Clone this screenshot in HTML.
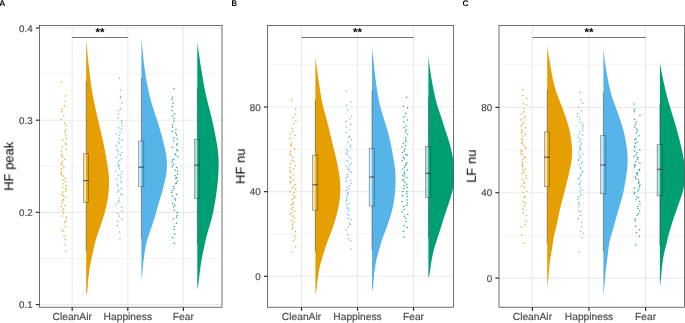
<!DOCTYPE html>
<html><head><meta charset="utf-8"><style>
html,body{margin:0;padding:0;background:#fff;width:685px;height:323px;overflow:hidden}
svg{display:block;font-family:"Liberation Sans",sans-serif;-webkit-font-smoothing:antialiased}
text{will-change:transform;text-rendering:geometricPrecision}
</style></head><body>
<svg width="685" height="323" viewBox="0 0 685 323">
<rect width="685" height="323" fill="#fff"/>
<clipPath id="clipA"><rect x="39.5" y="25.4" width="182.50" height="281.80"/></clipPath>
<g clip-path="url(#clipA)">
<line x1="39.5" x2="222.0" y1="258.5" y2="258.5" stroke="#EBEBEB" stroke-width="0.6"/>
<line x1="39.5" x2="222.0" y1="166.3" y2="166.3" stroke="#EBEBEB" stroke-width="0.6"/>
<line x1="39.5" x2="222.0" y1="74.1" y2="74.1" stroke="#EBEBEB" stroke-width="0.6"/>
<line x1="39.5" x2="222.0" y1="304.6" y2="304.6" stroke="#EBEBEB" stroke-width="1.1"/>
<line x1="39.5" x2="222.0" y1="212.4" y2="212.4" stroke="#EBEBEB" stroke-width="1.1"/>
<line x1="39.5" x2="222.0" y1="120.2" y2="120.2" stroke="#EBEBEB" stroke-width="1.1"/>
<line x1="39.5" x2="222.0" y1="28.0" y2="28.0" stroke="#EBEBEB" stroke-width="1.1"/>
<line x1="72.2" x2="72.2" y1="25.4" y2="307.2" stroke="#EBEBEB" stroke-width="1.1"/>
<line x1="127.8" x2="127.8" y1="25.4" y2="307.2" stroke="#EBEBEB" stroke-width="1.1"/>
<line x1="183.4" x2="183.4" y1="25.4" y2="307.2" stroke="#EBEBEB" stroke-width="1.1"/>
<path d="M86.20,39.60 L87.10,39.60 L86.24,40.10 L86.29,40.60 L86.33,41.10 L86.37,41.60 L86.42,42.10 L86.46,42.60 L86.51,43.10 L86.55,43.60 L86.60,44.10 L86.64,44.60 L86.69,45.10 L86.74,45.60 L86.78,46.10 L86.83,46.60 L86.87,47.10 L86.92,47.60 L86.97,48.10 L87.02,48.60 L87.06,49.10 L87.11,49.60 L87.16,50.10 L87.21,50.60 L87.26,51.10 L87.31,51.60 L87.36,52.10 L87.41,52.60 L87.45,53.10 L87.50,53.60 L87.55,54.10 L87.60,54.60 L87.66,55.10 L87.71,55.60 L87.76,56.10 L87.81,56.60 L87.86,57.10 L87.91,57.60 L87.96,58.10 L88.01,58.60 L88.07,59.10 L88.12,59.60 L88.17,60.10 L88.22,60.60 L88.28,61.10 L88.33,61.60 L88.38,62.10 L88.44,62.60 L88.49,63.10 L88.55,63.60 L88.60,64.10 L88.65,64.60 L88.71,65.10 L88.76,65.60 L88.82,66.10 L88.87,66.60 L88.93,67.10 L88.99,67.60 L89.04,68.10 L89.10,68.60 L89.15,69.10 L89.21,69.60 L89.27,70.10 L89.32,70.60 L89.38,71.10 L89.44,71.60 L89.50,72.10 L89.55,72.60 L89.61,73.10 L89.67,73.60 L89.73,74.10 L89.79,74.60 L89.85,75.10 L89.91,75.60 L89.97,76.10 L90.03,76.60 L90.09,77.10 L90.15,77.60 L90.21,78.10 L90.27,78.60 L90.33,79.10 L90.39,79.60 L90.46,80.10 L90.52,80.60 L90.58,81.10 L90.65,81.60 L90.71,82.10 L90.78,82.60 L90.84,83.10 L90.91,83.60 L90.98,84.10 L91.04,84.60 L91.11,85.10 L91.18,85.60 L91.25,86.10 L91.32,86.60 L91.40,87.10 L91.47,87.60 L91.54,88.10 L91.62,88.60 L91.70,89.10 L91.77,89.60 L91.85,90.10 L91.93,90.60 L92.01,91.10 L92.10,91.60 L92.18,92.10 L92.26,92.60 L92.35,93.10 L92.44,93.60 L92.53,94.10 L92.62,94.60 L92.71,95.10 L92.80,95.60 L92.89,96.10 L92.99,96.60 L93.08,97.10 L93.18,97.60 L93.27,98.10 L93.37,98.60 L93.47,99.10 L93.57,99.60 L93.68,100.10 L93.78,100.60 L93.88,101.10 L93.98,101.60 L94.09,102.10 L94.19,102.60 L94.30,103.10 L94.41,103.60 L94.51,104.10 L94.62,104.60 L94.73,105.10 L94.84,105.60 L94.95,106.10 L95.06,106.60 L95.17,107.10 L95.28,107.60 L95.39,108.10 L95.50,108.60 L95.61,109.10 L95.72,109.60 L95.83,110.10 L95.94,110.60 L96.05,111.10 L96.16,111.60 L96.27,112.10 L96.39,112.60 L96.50,113.10 L96.61,113.60 L96.72,114.10 L96.83,114.60 L96.95,115.10 L97.06,115.60 L97.17,116.10 L97.29,116.60 L97.40,117.10 L97.52,117.60 L97.63,118.10 L97.74,118.60 L97.86,119.10 L97.97,119.60 L98.09,120.10 L98.20,120.60 L98.32,121.10 L98.44,121.60 L98.55,122.10 L98.67,122.60 L98.78,123.10 L98.90,123.60 L99.02,124.10 L99.13,124.60 L99.25,125.10 L99.37,125.60 L99.48,126.10 L99.60,126.60 L99.72,127.10 L99.83,127.60 L99.95,128.10 L100.06,128.60 L100.18,129.10 L100.30,129.60 L100.41,130.10 L100.53,130.60 L100.64,131.10 L100.76,131.60 L100.87,132.10 L100.99,132.60 L101.10,133.10 L101.22,133.60 L101.33,134.10 L101.45,134.60 L101.56,135.10 L101.68,135.60 L101.79,136.10 L101.91,136.60 L102.02,137.10 L102.14,137.60 L102.25,138.10 L102.36,138.60 L102.48,139.10 L102.59,139.60 L102.70,140.10 L102.81,140.60 L102.93,141.10 L103.04,141.60 L103.15,142.10 L103.26,142.60 L103.37,143.10 L103.48,143.60 L103.58,144.10 L103.69,144.60 L103.80,145.10 L103.90,145.60 L104.01,146.10 L104.11,146.60 L104.21,147.10 L104.31,147.60 L104.41,148.10 L104.51,148.60 L104.61,149.10 L104.71,149.60 L104.80,150.10 L104.90,150.60 L104.99,151.10 L105.08,151.60 L105.18,152.10 L105.27,152.60 L105.36,153.10 L105.45,153.60 L105.53,154.10 L105.62,154.60 L105.71,155.10 L105.79,155.60 L105.88,156.10 L105.96,156.60 L106.05,157.10 L106.13,157.60 L106.21,158.10 L106.29,158.60 L106.38,159.10 L106.46,159.60 L106.54,160.10 L106.62,160.60 L106.70,161.10 L106.79,161.60 L106.87,162.10 L106.95,162.60 L107.03,163.10 L107.11,163.60 L107.19,164.10 L107.27,164.60 L107.36,165.10 L107.44,165.60 L107.52,166.10 L107.59,166.60 L107.67,167.10 L107.75,167.60 L107.83,168.10 L107.90,168.60 L107.97,169.10 L108.05,169.60 L108.12,170.10 L108.18,170.60 L108.25,171.10 L108.31,171.60 L108.37,172.10 L108.43,172.60 L108.49,173.10 L108.54,173.60 L108.59,174.10 L108.64,174.60 L108.69,175.10 L108.73,175.60 L108.77,176.10 L108.81,176.60 L108.84,177.10 L108.88,177.60 L108.91,178.10 L108.93,178.60 L108.96,179.10 L108.98,179.60 L108.99,180.10 L109.01,180.60 L109.02,181.10 L109.03,181.60 L109.04,182.10 L109.04,182.60 L109.04,183.10 L109.04,183.60 L109.03,184.10 L109.02,184.60 L109.01,185.10 L109.00,185.60 L108.98,186.10 L108.97,186.60 L108.94,187.10 L108.92,187.60 L108.89,188.10 L108.86,188.60 L108.83,189.10 L108.80,189.60 L108.76,190.10 L108.72,190.60 L108.68,191.10 L108.64,191.60 L108.59,192.10 L108.54,192.60 L108.49,193.10 L108.44,193.60 L108.39,194.10 L108.33,194.60 L108.27,195.10 L108.20,195.60 L108.14,196.10 L108.07,196.60 L108.00,197.10 L107.93,197.60 L107.86,198.10 L107.78,198.60 L107.70,199.10 L107.62,199.60 L107.53,200.10 L107.45,200.60 L107.36,201.10 L107.27,201.60 L107.17,202.10 L107.08,202.60 L106.98,203.10 L106.88,203.60 L106.78,204.10 L106.67,204.60 L106.57,205.10 L106.46,205.60 L106.35,206.10 L106.23,206.60 L106.12,207.10 L106.00,207.60 L105.88,208.10 L105.76,208.60 L105.63,209.10 L105.51,209.60 L105.38,210.10 L105.25,210.60 L105.12,211.10 L104.98,211.60 L104.85,212.10 L104.71,212.60 L104.57,213.10 L104.43,213.60 L104.28,214.10 L104.14,214.60 L103.99,215.10 L103.84,215.60 L103.69,216.10 L103.54,216.60 L103.39,217.10 L103.23,217.60 L103.08,218.10 L102.92,218.60 L102.76,219.10 L102.60,219.60 L102.44,220.10 L102.28,220.60 L102.12,221.10 L101.95,221.60 L101.79,222.10 L101.62,222.60 L101.45,223.10 L101.29,223.60 L101.12,224.10 L100.95,224.60 L100.78,225.10 L100.60,225.60 L100.43,226.10 L100.26,226.60 L100.09,227.10 L99.92,227.60 L99.74,228.10 L99.57,228.60 L99.40,229.10 L99.22,229.60 L99.05,230.10 L98.88,230.60 L98.71,231.10 L98.53,231.60 L98.36,232.10 L98.19,232.60 L98.03,233.10 L97.86,233.60 L97.69,234.10 L97.53,234.60 L97.36,235.10 L97.20,235.60 L97.04,236.10 L96.88,236.60 L96.72,237.10 L96.57,237.60 L96.41,238.10 L96.26,238.60 L96.11,239.10 L95.97,239.60 L95.82,240.10 L95.68,240.60 L95.54,241.10 L95.41,241.60 L95.27,242.10 L95.14,242.60 L95.01,243.10 L94.88,243.60 L94.76,244.10 L94.63,244.60 L94.51,245.10 L94.39,245.60 L94.27,246.10 L94.16,246.60 L94.04,247.10 L93.93,247.60 L93.81,248.10 L93.70,248.60 L93.59,249.10 L93.47,249.60 L93.36,250.10 L93.25,250.60 L93.14,251.10 L93.03,251.60 L92.91,252.10 L92.80,252.60 L92.69,253.10 L92.58,253.60 L92.47,254.10 L92.35,254.60 L92.24,255.10 L92.13,255.60 L92.02,256.10 L91.91,256.60 L91.80,257.10 L91.69,257.60 L91.58,258.10 L91.48,258.60 L91.37,259.10 L91.27,259.60 L91.17,260.10 L91.07,260.60 L90.97,261.10 L90.87,261.60 L90.77,262.10 L90.68,262.60 L90.59,263.10 L90.50,263.60 L90.41,264.10 L90.32,264.60 L90.24,265.10 L90.16,265.60 L90.07,266.10 L89.99,266.60 L89.92,267.10 L89.84,267.60 L89.77,268.10 L89.69,268.60 L89.62,269.10 L89.55,269.60 L89.48,270.10 L89.41,270.60 L89.34,271.10 L89.27,271.60 L89.21,272.10 L89.14,272.60 L89.08,273.10 L89.01,273.60 L88.95,274.10 L88.89,274.60 L88.82,275.10 L88.76,275.60 L88.70,276.10 L88.63,276.60 L88.57,277.10 L88.51,277.60 L88.45,278.10 L88.39,278.60 L88.33,279.10 L88.28,279.60 L88.22,280.10 L88.18,280.60 L88.13,281.10 L88.08,281.60 L88.04,282.10 L88.00,282.60 L87.97,283.10 L87.93,283.60 L87.89,284.10 L87.86,284.60 L87.82,285.10 L87.79,285.60 L87.75,286.10 L87.71,286.60 L87.67,287.10 L87.63,287.60 L87.59,288.10 L87.55,288.60 L87.51,289.10 L87.47,289.60 L87.42,290.10 L87.37,290.60 L87.30,291.10 L87.23,291.60 L87.15,292.10 L87.06,292.60 L86.90,293.10 L86.69,293.60 L86.45,294.10 L86.20,294.60 L86.90,294.60 L86.20,294.60 Z" fill="#E69F00"/>
<path d="M141.40,38.80 L142.30,38.80 L141.45,39.30 L141.50,39.80 L141.55,40.30 L141.59,40.80 L141.64,41.30 L141.69,41.80 L141.74,42.30 L141.79,42.80 L141.84,43.30 L141.89,43.80 L141.94,44.30 L141.99,44.80 L142.04,45.30 L142.09,45.80 L142.14,46.30 L142.19,46.80 L142.24,47.30 L142.29,47.80 L142.35,48.30 L142.40,48.80 L142.45,49.30 L142.50,49.80 L142.55,50.30 L142.61,50.80 L142.66,51.30 L142.71,51.80 L142.76,52.30 L142.82,52.80 L142.87,53.30 L142.92,53.80 L142.97,54.30 L143.03,54.80 L143.08,55.30 L143.13,55.80 L143.18,56.30 L143.24,56.80 L143.29,57.30 L143.34,57.80 L143.39,58.30 L143.45,58.80 L143.50,59.30 L143.55,59.80 L143.61,60.30 L143.66,60.80 L143.72,61.30 L143.77,61.80 L143.83,62.30 L143.88,62.80 L143.94,63.30 L144.00,63.80 L144.05,64.30 L144.11,64.80 L144.17,65.30 L144.23,65.80 L144.29,66.30 L144.35,66.80 L144.41,67.30 L144.47,67.80 L144.54,68.30 L144.60,68.80 L144.67,69.30 L144.74,69.80 L144.81,70.30 L144.87,70.80 L144.95,71.30 L145.02,71.80 L145.09,72.30 L145.17,72.80 L145.24,73.30 L145.32,73.80 L145.40,74.30 L145.48,74.80 L145.56,75.30 L145.64,75.80 L145.73,76.30 L145.81,76.80 L145.90,77.30 L145.99,77.80 L146.08,78.30 L146.17,78.80 L146.26,79.30 L146.35,79.80 L146.44,80.30 L146.54,80.80 L146.63,81.30 L146.73,81.80 L146.82,82.30 L146.92,82.80 L147.02,83.30 L147.11,83.80 L147.21,84.30 L147.31,84.80 L147.41,85.30 L147.51,85.80 L147.61,86.30 L147.71,86.80 L147.81,87.30 L147.91,87.80 L148.01,88.30 L148.11,88.80 L148.21,89.30 L148.31,89.80 L148.42,90.30 L148.52,90.80 L148.62,91.30 L148.73,91.80 L148.84,92.30 L148.95,92.80 L149.06,93.30 L149.17,93.80 L149.28,94.30 L149.40,94.80 L149.51,95.30 L149.63,95.80 L149.75,96.30 L149.87,96.80 L150.00,97.30 L150.13,97.80 L150.26,98.30 L150.39,98.80 L150.52,99.30 L150.66,99.80 L150.79,100.30 L150.93,100.80 L151.07,101.30 L151.22,101.80 L151.36,102.30 L151.51,102.80 L151.65,103.30 L151.80,103.80 L151.95,104.30 L152.11,104.80 L152.26,105.30 L152.41,105.80 L152.57,106.30 L152.72,106.80 L152.88,107.30 L153.04,107.80 L153.20,108.30 L153.36,108.80 L153.52,109.30 L153.68,109.80 L153.84,110.30 L154.00,110.80 L154.16,111.30 L154.33,111.80 L154.49,112.30 L154.65,112.80 L154.82,113.30 L154.98,113.80 L155.15,114.30 L155.31,114.80 L155.48,115.30 L155.64,115.80 L155.81,116.30 L155.97,116.80 L156.13,117.30 L156.30,117.80 L156.46,118.30 L156.63,118.80 L156.79,119.30 L156.95,119.80 L157.12,120.30 L157.28,120.80 L157.44,121.30 L157.60,121.80 L157.76,122.30 L157.92,122.80 L158.08,123.30 L158.24,123.80 L158.39,124.30 L158.55,124.80 L158.71,125.30 L158.86,125.80 L159.01,126.30 L159.16,126.80 L159.32,127.30 L159.47,127.80 L159.61,128.30 L159.76,128.80 L159.91,129.30 L160.05,129.80 L160.20,130.30 L160.34,130.80 L160.48,131.30 L160.62,131.80 L160.77,132.30 L160.90,132.80 L161.04,133.30 L161.18,133.80 L161.31,134.30 L161.45,134.80 L161.58,135.30 L161.72,135.80 L161.85,136.30 L161.98,136.80 L162.11,137.30 L162.24,137.80 L162.37,138.30 L162.50,138.80 L162.63,139.30 L162.76,139.80 L162.89,140.30 L163.01,140.80 L163.14,141.30 L163.27,141.80 L163.39,142.30 L163.52,142.80 L163.64,143.30 L163.77,143.80 L163.89,144.30 L164.01,144.80 L164.14,145.30 L164.26,145.80 L164.38,146.30 L164.50,146.80 L164.62,147.30 L164.73,147.80 L164.85,148.30 L164.96,148.80 L165.07,149.30 L165.18,149.80 L165.29,150.30 L165.40,150.80 L165.50,151.30 L165.60,151.80 L165.70,152.30 L165.80,152.80 L165.89,153.30 L165.98,153.80 L166.06,154.30 L166.15,154.80 L166.22,155.30 L166.30,155.80 L166.37,156.30 L166.44,156.80 L166.50,157.30 L166.56,157.80 L166.62,158.30 L166.67,158.80 L166.72,159.30 L166.76,159.80 L166.80,160.30 L166.83,160.80 L166.86,161.30 L166.88,161.80 L166.91,162.30 L166.92,162.80 L166.93,163.30 L166.94,163.80 L166.94,164.30 L166.94,164.80 L166.93,165.30 L166.92,165.80 L166.91,166.30 L166.89,166.80 L166.87,167.30 L166.84,167.80 L166.81,168.30 L166.77,168.80 L166.73,169.30 L166.69,169.80 L166.64,170.30 L166.59,170.80 L166.53,171.30 L166.48,171.80 L166.41,172.30 L166.35,172.80 L166.28,173.30 L166.21,173.80 L166.14,174.30 L166.06,174.80 L165.98,175.30 L165.89,175.80 L165.81,176.30 L165.72,176.80 L165.63,177.30 L165.53,177.80 L165.43,178.30 L165.33,178.80 L165.23,179.30 L165.13,179.80 L165.02,180.30 L164.91,180.80 L164.80,181.30 L164.69,181.80 L164.58,182.30 L164.46,182.80 L164.35,183.30 L164.23,183.80 L164.11,184.30 L163.99,184.80 L163.86,185.30 L163.74,185.80 L163.61,186.30 L163.49,186.80 L163.36,187.30 L163.23,187.80 L163.10,188.30 L162.97,188.80 L162.83,189.30 L162.70,189.80 L162.56,190.30 L162.43,190.80 L162.29,191.30 L162.15,191.80 L162.01,192.30 L161.87,192.80 L161.73,193.30 L161.59,193.80 L161.44,194.30 L161.30,194.80 L161.15,195.30 L161.00,195.80 L160.86,196.30 L160.71,196.80 L160.56,197.30 L160.41,197.80 L160.26,198.30 L160.11,198.80 L159.96,199.30 L159.81,199.80 L159.66,200.30 L159.50,200.80 L159.35,201.30 L159.20,201.80 L159.05,202.30 L158.90,202.80 L158.75,203.30 L158.60,203.80 L158.45,204.30 L158.30,204.80 L158.16,205.30 L158.01,205.80 L157.86,206.30 L157.72,206.80 L157.58,207.30 L157.43,207.80 L157.29,208.30 L157.15,208.80 L157.01,209.30 L156.87,209.80 L156.74,210.30 L156.60,210.80 L156.46,211.30 L156.32,211.80 L156.19,212.30 L156.05,212.80 L155.91,213.30 L155.77,213.80 L155.63,214.30 L155.49,214.80 L155.35,215.30 L155.21,215.80 L155.06,216.30 L154.92,216.80 L154.77,217.30 L154.62,217.80 L154.46,218.30 L154.31,218.80 L154.15,219.30 L153.99,219.80 L153.83,220.30 L153.67,220.80 L153.51,221.30 L153.34,221.80 L153.18,222.30 L153.01,222.80 L152.84,223.30 L152.68,223.80 L152.51,224.30 L152.34,224.80 L152.16,225.30 L151.99,225.80 L151.82,226.30 L151.65,226.80 L151.48,227.30 L151.30,227.80 L151.13,228.30 L150.95,228.80 L150.78,229.30 L150.61,229.80 L150.43,230.30 L150.26,230.80 L150.08,231.30 L149.91,231.80 L149.73,232.30 L149.56,232.80 L149.39,233.30 L149.22,233.80 L149.05,234.30 L148.88,234.80 L148.71,235.30 L148.55,235.80 L148.38,236.30 L148.22,236.80 L148.06,237.30 L147.91,237.80 L147.75,238.30 L147.60,238.80 L147.46,239.30 L147.31,239.80 L147.17,240.30 L147.04,240.80 L146.90,241.30 L146.77,241.80 L146.64,242.30 L146.52,242.80 L146.40,243.30 L146.28,243.80 L146.16,244.30 L146.05,244.80 L145.94,245.30 L145.83,245.80 L145.73,246.30 L145.63,246.80 L145.53,247.30 L145.43,247.80 L145.33,248.30 L145.24,248.80 L145.15,249.30 L145.06,249.80 L144.97,250.30 L144.89,250.80 L144.80,251.30 L144.72,251.80 L144.64,252.30 L144.57,252.80 L144.49,253.30 L144.42,253.80 L144.34,254.30 L144.27,254.80 L144.21,255.30 L144.14,255.80 L144.07,256.30 L144.00,256.80 L143.94,257.30 L143.88,257.80 L143.81,258.30 L143.75,258.80 L143.70,259.30 L143.64,259.80 L143.58,260.30 L143.52,260.80 L143.47,261.30 L143.42,261.80 L143.36,262.30 L143.31,262.80 L143.26,263.30 L143.21,263.80 L143.16,264.30 L143.11,264.80 L143.06,265.30 L143.02,265.80 L142.97,266.30 L142.92,266.80 L142.88,267.30 L142.84,267.80 L142.80,268.30 L142.76,268.80 L142.72,269.30 L142.68,269.80 L142.64,270.30 L142.60,270.80 L142.56,271.30 L142.51,271.80 L142.46,272.30 L142.40,272.80 L142.34,273.30 L142.27,273.80 L142.20,274.30 L142.12,274.80 L142.04,275.30 L141.96,275.80 L141.87,276.30 L141.78,276.80 L141.68,277.30 L141.58,277.80 L141.48,278.30 L142.10,278.70 L141.40,278.70 Z" fill="#56B4E9"/>
<path d="M197.30,42.80 L198.20,42.80 L197.37,43.30 L197.45,43.80 L197.52,44.30 L197.59,44.80 L197.67,45.30 L197.74,45.80 L197.82,46.30 L197.89,46.80 L197.96,47.30 L198.04,47.80 L198.11,48.30 L198.19,48.80 L198.26,49.30 L198.33,49.80 L198.41,50.30 L198.48,50.80 L198.56,51.30 L198.63,51.80 L198.71,52.30 L198.78,52.80 L198.86,53.30 L198.93,53.80 L199.00,54.30 L199.08,54.80 L199.15,55.30 L199.23,55.80 L199.30,56.30 L199.37,56.80 L199.45,57.30 L199.52,57.80 L199.59,58.30 L199.67,58.80 L199.74,59.30 L199.81,59.80 L199.89,60.30 L199.96,60.80 L200.04,61.30 L200.11,61.80 L200.19,62.30 L200.26,62.80 L200.34,63.30 L200.41,63.80 L200.49,64.30 L200.56,64.80 L200.64,65.30 L200.72,65.80 L200.79,66.30 L200.87,66.80 L200.95,67.30 L201.02,67.80 L201.10,68.30 L201.18,68.80 L201.26,69.30 L201.34,69.80 L201.42,70.30 L201.50,70.80 L201.58,71.30 L201.66,71.80 L201.74,72.30 L201.82,72.80 L201.91,73.30 L201.99,73.80 L202.07,74.30 L202.15,74.80 L202.24,75.30 L202.32,75.80 L202.41,76.30 L202.49,76.80 L202.58,77.30 L202.66,77.80 L202.75,78.30 L202.84,78.80 L202.93,79.30 L203.01,79.80 L203.10,80.30 L203.19,80.80 L203.28,81.30 L203.37,81.80 L203.46,82.30 L203.55,82.80 L203.64,83.30 L203.73,83.80 L203.82,84.30 L203.91,84.80 L204.00,85.30 L204.09,85.80 L204.18,86.30 L204.28,86.80 L204.37,87.30 L204.46,87.80 L204.56,88.30 L204.65,88.80 L204.75,89.30 L204.84,89.80 L204.94,90.30 L205.04,90.80 L205.14,91.30 L205.24,91.80 L205.34,92.30 L205.45,92.80 L205.55,93.30 L205.66,93.80 L205.76,94.30 L205.87,94.80 L205.98,95.30 L206.10,95.80 L206.21,96.30 L206.32,96.80 L206.44,97.30 L206.56,97.80 L206.68,98.30 L206.80,98.80 L206.92,99.30 L207.05,99.80 L207.17,100.30 L207.30,100.80 L207.42,101.30 L207.55,101.80 L207.68,102.30 L207.81,102.80 L207.93,103.30 L208.06,103.80 L208.19,104.30 L208.32,104.80 L208.45,105.30 L208.58,105.80 L208.71,106.30 L208.84,106.80 L208.97,107.30 L209.10,107.80 L209.23,108.30 L209.36,108.80 L209.49,109.30 L209.61,109.80 L209.74,110.30 L209.87,110.80 L209.99,111.30 L210.12,111.80 L210.25,112.30 L210.37,112.80 L210.50,113.30 L210.62,113.80 L210.74,114.30 L210.87,114.80 L210.99,115.30 L211.11,115.80 L211.23,116.30 L211.35,116.80 L211.47,117.30 L211.59,117.80 L211.71,118.30 L211.82,118.80 L211.94,119.30 L212.05,119.80 L212.17,120.30 L212.28,120.80 L212.40,121.30 L212.51,121.80 L212.62,122.30 L212.73,122.80 L212.84,123.30 L212.95,123.80 L213.06,124.30 L213.17,124.80 L213.27,125.30 L213.38,125.80 L213.48,126.30 L213.59,126.80 L213.69,127.30 L213.80,127.80 L213.90,128.30 L214.00,128.80 L214.11,129.30 L214.21,129.80 L214.31,130.30 L214.41,130.80 L214.51,131.30 L214.61,131.80 L214.71,132.30 L214.81,132.80 L214.91,133.30 L215.01,133.80 L215.11,134.30 L215.20,134.80 L215.30,135.30 L215.40,135.80 L215.50,136.30 L215.59,136.80 L215.69,137.30 L215.78,137.80 L215.88,138.30 L215.97,138.80 L216.07,139.30 L216.16,139.80 L216.25,140.30 L216.34,140.80 L216.43,141.30 L216.52,141.80 L216.61,142.30 L216.70,142.80 L216.78,143.30 L216.87,143.80 L216.95,144.30 L217.03,144.80 L217.11,145.30 L217.19,145.80 L217.27,146.30 L217.35,146.80 L217.42,147.30 L217.49,147.80 L217.56,148.30 L217.63,148.80 L217.69,149.30 L217.75,149.80 L217.81,150.30 L217.87,150.80 L217.93,151.30 L217.98,151.80 L218.04,152.30 L218.09,152.80 L218.13,153.30 L218.18,153.80 L218.22,154.30 L218.27,154.80 L218.31,155.30 L218.34,155.80 L218.38,156.30 L218.41,156.80 L218.44,157.30 L218.47,157.80 L218.50,158.30 L218.53,158.80 L218.55,159.30 L218.57,159.80 L218.59,160.30 L218.61,160.80 L218.63,161.30 L218.64,161.80 L218.65,162.30 L218.66,162.80 L218.66,163.30 L218.67,163.80 L218.67,164.30 L218.67,164.80 L218.67,165.30 L218.66,165.80 L218.65,166.30 L218.65,166.80 L218.63,167.30 L218.62,167.80 L218.61,168.30 L218.59,168.80 L218.57,169.30 L218.55,169.80 L218.53,170.30 L218.51,170.80 L218.49,171.30 L218.46,171.80 L218.44,172.30 L218.41,172.80 L218.38,173.30 L218.35,173.80 L218.32,174.30 L218.29,174.80 L218.26,175.30 L218.22,175.80 L218.19,176.30 L218.15,176.80 L218.11,177.30 L218.08,177.80 L218.04,178.30 L218.00,178.80 L217.96,179.30 L217.91,179.80 L217.87,180.30 L217.82,180.80 L217.78,181.30 L217.73,181.80 L217.68,182.30 L217.63,182.80 L217.58,183.30 L217.53,183.80 L217.47,184.30 L217.42,184.80 L217.36,185.30 L217.31,185.80 L217.25,186.30 L217.19,186.80 L217.13,187.30 L217.07,187.80 L217.00,188.30 L216.94,188.80 L216.88,189.30 L216.81,189.80 L216.75,190.30 L216.68,190.80 L216.62,191.30 L216.55,191.80 L216.48,192.30 L216.41,192.80 L216.35,193.30 L216.28,193.80 L216.21,194.30 L216.14,194.80 L216.07,195.30 L215.99,195.80 L215.92,196.30 L215.85,196.80 L215.77,197.30 L215.70,197.80 L215.62,198.30 L215.55,198.80 L215.47,199.30 L215.39,199.80 L215.31,200.30 L215.23,200.80 L215.14,201.30 L215.06,201.80 L214.97,202.30 L214.89,202.80 L214.80,203.30 L214.72,203.80 L214.63,204.30 L214.54,204.80 L214.45,205.30 L214.36,205.80 L214.27,206.30 L214.18,206.80 L214.08,207.30 L213.99,207.80 L213.90,208.30 L213.81,208.80 L213.71,209.30 L213.62,209.80 L213.52,210.30 L213.43,210.80 L213.33,211.30 L213.23,211.80 L213.13,212.30 L213.03,212.80 L212.93,213.30 L212.82,213.80 L212.72,214.30 L212.61,214.80 L212.49,215.30 L212.38,215.80 L212.26,216.30 L212.14,216.80 L212.01,217.30 L211.88,217.80 L211.75,218.30 L211.62,218.80 L211.48,219.30 L211.35,219.80 L211.21,220.30 L211.06,220.80 L210.92,221.30 L210.77,221.80 L210.62,222.30 L210.47,222.80 L210.32,223.30 L210.17,223.80 L210.02,224.30 L209.87,224.80 L209.71,225.30 L209.56,225.80 L209.41,226.30 L209.26,226.80 L209.11,227.30 L208.96,227.80 L208.81,228.30 L208.66,228.80 L208.51,229.30 L208.36,229.80 L208.22,230.30 L208.07,230.80 L207.93,231.30 L207.79,231.80 L207.65,232.30 L207.51,232.80 L207.38,233.30 L207.24,233.80 L207.11,234.30 L206.98,234.80 L206.85,235.30 L206.72,235.80 L206.59,236.30 L206.47,236.80 L206.34,237.30 L206.22,237.80 L206.10,238.30 L205.99,238.80 L205.87,239.30 L205.76,239.80 L205.64,240.30 L205.53,240.80 L205.42,241.30 L205.31,241.80 L205.20,242.30 L205.10,242.80 L204.99,243.30 L204.88,243.80 L204.78,244.30 L204.67,244.80 L204.57,245.30 L204.46,245.80 L204.36,246.30 L204.25,246.80 L204.15,247.30 L204.04,247.80 L203.93,248.30 L203.83,248.80 L203.72,249.30 L203.61,249.80 L203.50,250.30 L203.39,250.80 L203.29,251.30 L203.18,251.80 L203.07,252.30 L202.96,252.80 L202.85,253.30 L202.75,253.80 L202.64,254.30 L202.54,254.80 L202.43,255.30 L202.33,255.80 L202.23,256.30 L202.13,256.80 L202.03,257.30 L201.93,257.80 L201.84,258.30 L201.74,258.80 L201.65,259.30 L201.56,259.80 L201.48,260.30 L201.39,260.80 L201.31,261.30 L201.22,261.80 L201.14,262.30 L201.06,262.80 L200.99,263.30 L200.91,263.80 L200.84,264.30 L200.76,264.80 L200.69,265.30 L200.62,265.80 L200.55,266.30 L200.48,266.80 L200.42,267.30 L200.35,267.80 L200.28,268.30 L200.22,268.80 L200.15,269.30 L200.09,269.80 L200.02,270.30 L199.96,270.80 L199.89,271.30 L199.83,271.80 L199.77,272.30 L199.70,272.80 L199.64,273.30 L199.57,273.80 L199.51,274.30 L199.45,274.80 L199.39,275.30 L199.33,275.80 L199.27,276.30 L199.21,276.80 L199.16,277.30 L199.11,277.80 L199.06,278.30 L199.01,278.80 L198.97,279.30 L198.92,279.80 L198.88,280.30 L198.83,280.80 L198.78,281.30 L198.73,281.80 L198.67,282.30 L198.60,282.80 L198.53,283.30 L198.45,283.80 L198.36,284.30 L198.27,284.80 L198.18,285.30 L198.08,285.80 L197.97,286.30 L197.86,286.80 L197.74,287.30 L197.62,287.80 L197.50,288.30 L197.38,288.80 L198.00,289.10 L197.30,289.10 Z" fill="#009E73"/>
<line x1="86.2" x2="86.2" y1="81.8" y2="153.8" stroke="#333333" stroke-width="0.6" stroke-opacity="0.8"/>
<line x1="86.2" x2="86.2" y1="202.4" y2="251.5" stroke="#333333" stroke-width="0.6" stroke-opacity="0.8"/>
<rect x="83.40" y="153.8" width="5.20" height="48.60" fill="#E69F00" fill-opacity="0.3" stroke="#333333" stroke-width="0.65" stroke-opacity="0.6"/>
<line x1="83.40" x2="88.60" y1="180.7" y2="180.7" stroke="#333333" stroke-width="0.9"/>
<line x1="141.4" x2="141.4" y1="78" y2="141.1" stroke="#333333" stroke-width="0.6" stroke-opacity="0.8"/>
<line x1="141.4" x2="141.4" y1="186.5" y2="239" stroke="#333333" stroke-width="0.6" stroke-opacity="0.8"/>
<rect x="138.60" y="141.1" width="5.20" height="45.40" fill="#56B4E9" fill-opacity="0.3" stroke="#333333" stroke-width="0.65" stroke-opacity="0.6"/>
<line x1="138.60" x2="143.80" y1="167.2" y2="167.2" stroke="#333333" stroke-width="0.9"/>
<line x1="197.3" x2="197.3" y1="88.4" y2="139.5" stroke="#333333" stroke-width="0.6" stroke-opacity="0.8"/>
<line x1="197.3" x2="197.3" y1="198.5" y2="243.6" stroke="#333333" stroke-width="0.6" stroke-opacity="0.8"/>
<rect x="194.50" y="139.5" width="5.20" height="59.00" fill="#009E73" fill-opacity="0.3" stroke="#333333" stroke-width="0.65" stroke-opacity="0.6"/>
<line x1="194.50" x2="199.70" y1="165.2" y2="165.2" stroke="#333333" stroke-width="0.9"/>
<circle cx="61.43" cy="82.10" r="0.75" fill="#E69F00" fill-opacity="0.9"/>
<circle cx="65.92" cy="95.83" r="0.75" fill="#E69F00" fill-opacity="0.9"/>
<circle cx="65.32" cy="101.43" r="0.75" fill="#E69F00" fill-opacity="0.9"/>
<circle cx="64.36" cy="105.75" r="0.75" fill="#E69F00" fill-opacity="0.9"/>
<circle cx="61.89" cy="109.20" r="0.75" fill="#E69F00" fill-opacity="0.9"/>
<circle cx="61.81" cy="111.84" r="0.75" fill="#E69F00" fill-opacity="0.9"/>
<circle cx="63.73" cy="115.39" r="0.75" fill="#E69F00" fill-opacity="0.9"/>
<circle cx="61.01" cy="119.30" r="0.75" fill="#E69F00" fill-opacity="0.9"/>
<circle cx="64.60" cy="123.21" r="0.75" fill="#E69F00" fill-opacity="0.9"/>
<circle cx="65.48" cy="125.52" r="0.75" fill="#E69F00" fill-opacity="0.9"/>
<circle cx="65.87" cy="129.88" r="0.75" fill="#E69F00" fill-opacity="0.9"/>
<circle cx="64.82" cy="131.98" r="0.75" fill="#E69F00" fill-opacity="0.9"/>
<circle cx="65.42" cy="134.99" r="0.75" fill="#E69F00" fill-opacity="0.9"/>
<circle cx="66.22" cy="138.57" r="0.75" fill="#E69F00" fill-opacity="0.9"/>
<circle cx="62.72" cy="140.45" r="0.75" fill="#E69F00" fill-opacity="0.9"/>
<circle cx="65.64" cy="143.26" r="0.75" fill="#E69F00" fill-opacity="0.9"/>
<circle cx="66.17" cy="144.88" r="0.75" fill="#E69F00" fill-opacity="0.9"/>
<circle cx="62.40" cy="146.94" r="0.75" fill="#E69F00" fill-opacity="0.9"/>
<circle cx="66.06" cy="149.39" r="0.75" fill="#E69F00" fill-opacity="0.9"/>
<circle cx="61.60" cy="151.17" r="0.75" fill="#E69F00" fill-opacity="0.9"/>
<circle cx="61.91" cy="153.90" r="0.75" fill="#E69F00" fill-opacity="0.9"/>
<circle cx="61.10" cy="155.63" r="0.75" fill="#E69F00" fill-opacity="0.9"/>
<circle cx="62.63" cy="156.97" r="0.75" fill="#E69F00" fill-opacity="0.9"/>
<circle cx="64.68" cy="159.53" r="0.75" fill="#E69F00" fill-opacity="0.9"/>
<circle cx="62.59" cy="161.93" r="0.75" fill="#E69F00" fill-opacity="0.9"/>
<circle cx="61.23" cy="163.56" r="0.75" fill="#E69F00" fill-opacity="0.9"/>
<circle cx="62.16" cy="165.26" r="0.75" fill="#E69F00" fill-opacity="0.9"/>
<circle cx="63.92" cy="167.85" r="0.75" fill="#E69F00" fill-opacity="0.9"/>
<circle cx="61.57" cy="168.87" r="0.75" fill="#E69F00" fill-opacity="0.9"/>
<circle cx="61.30" cy="171.68" r="0.75" fill="#E69F00" fill-opacity="0.9"/>
<circle cx="61.08" cy="173.41" r="0.75" fill="#E69F00" fill-opacity="0.9"/>
<circle cx="61.42" cy="174.84" r="0.75" fill="#E69F00" fill-opacity="0.9"/>
<circle cx="63.17" cy="176.12" r="0.75" fill="#E69F00" fill-opacity="0.9"/>
<circle cx="64.74" cy="178.08" r="0.75" fill="#E69F00" fill-opacity="0.9"/>
<circle cx="62.87" cy="179.82" r="0.75" fill="#E69F00" fill-opacity="0.9"/>
<circle cx="65.44" cy="181.38" r="0.75" fill="#E69F00" fill-opacity="0.9"/>
<circle cx="63.53" cy="183.85" r="0.75" fill="#E69F00" fill-opacity="0.9"/>
<circle cx="66.33" cy="185.69" r="0.75" fill="#E69F00" fill-opacity="0.9"/>
<circle cx="62.89" cy="187.39" r="0.75" fill="#E69F00" fill-opacity="0.9"/>
<circle cx="66.17" cy="188.88" r="0.75" fill="#E69F00" fill-opacity="0.9"/>
<circle cx="65.54" cy="190.89" r="0.75" fill="#E69F00" fill-opacity="0.9"/>
<circle cx="63.00" cy="192.11" r="0.75" fill="#E69F00" fill-opacity="0.9"/>
<circle cx="61.75" cy="194.48" r="0.75" fill="#E69F00" fill-opacity="0.9"/>
<circle cx="63.33" cy="195.81" r="0.75" fill="#E69F00" fill-opacity="0.9"/>
<circle cx="65.55" cy="196.96" r="0.75" fill="#E69F00" fill-opacity="0.9"/>
<circle cx="63.41" cy="199.62" r="0.75" fill="#E69F00" fill-opacity="0.9"/>
<circle cx="62.84" cy="200.70" r="0.75" fill="#E69F00" fill-opacity="0.9"/>
<circle cx="62.21" cy="202.70" r="0.75" fill="#E69F00" fill-opacity="0.9"/>
<circle cx="64.56" cy="205.42" r="0.75" fill="#E69F00" fill-opacity="0.9"/>
<circle cx="60.96" cy="206.62" r="0.75" fill="#E69F00" fill-opacity="0.9"/>
<circle cx="63.74" cy="208.75" r="0.75" fill="#E69F00" fill-opacity="0.9"/>
<circle cx="62.76" cy="210.87" r="0.75" fill="#E69F00" fill-opacity="0.9"/>
<circle cx="63.45" cy="212.79" r="0.75" fill="#E69F00" fill-opacity="0.9"/>
<circle cx="61.94" cy="216.15" r="0.75" fill="#E69F00" fill-opacity="0.9"/>
<circle cx="66.56" cy="217.27" r="0.75" fill="#E69F00" fill-opacity="0.9"/>
<circle cx="65.59" cy="220.85" r="0.75" fill="#E69F00" fill-opacity="0.9"/>
<circle cx="64.94" cy="222.24" r="0.75" fill="#E69F00" fill-opacity="0.9"/>
<circle cx="65.32" cy="226.45" r="0.75" fill="#E69F00" fill-opacity="0.9"/>
<circle cx="62.41" cy="229.57" r="0.75" fill="#E69F00" fill-opacity="0.9"/>
<circle cx="63.04" cy="231.37" r="0.75" fill="#E69F00" fill-opacity="0.9"/>
<circle cx="63.98" cy="236.03" r="0.75" fill="#E69F00" fill-opacity="0.9"/>
<circle cx="65.10" cy="239.59" r="0.75" fill="#E69F00" fill-opacity="0.9"/>
<circle cx="65.02" cy="244.77" r="0.75" fill="#E69F00" fill-opacity="0.9"/>
<circle cx="65.87" cy="251.20" r="0.75" fill="#E69F00" fill-opacity="0.9"/>
<circle cx="119.51" cy="78.30" r="0.75" fill="#56B4E9" fill-opacity="0.9"/>
<circle cx="120.37" cy="89.90" r="0.75" fill="#56B4E9" fill-opacity="0.9"/>
<circle cx="120.65" cy="96.58" r="0.75" fill="#56B4E9" fill-opacity="0.9"/>
<circle cx="120.46" cy="97.91" r="0.75" fill="#56B4E9" fill-opacity="0.9"/>
<circle cx="121.85" cy="102.66" r="0.75" fill="#56B4E9" fill-opacity="0.9"/>
<circle cx="120.52" cy="108.83" r="0.75" fill="#56B4E9" fill-opacity="0.9"/>
<circle cx="118.31" cy="110.32" r="0.75" fill="#56B4E9" fill-opacity="0.9"/>
<circle cx="118.63" cy="113.81" r="0.75" fill="#56B4E9" fill-opacity="0.9"/>
<circle cx="118.09" cy="117.95" r="0.75" fill="#56B4E9" fill-opacity="0.9"/>
<circle cx="121.52" cy="120.77" r="0.75" fill="#56B4E9" fill-opacity="0.9"/>
<circle cx="121.72" cy="123.12" r="0.75" fill="#56B4E9" fill-opacity="0.9"/>
<circle cx="121.97" cy="125.77" r="0.75" fill="#56B4E9" fill-opacity="0.9"/>
<circle cx="118.61" cy="127.86" r="0.75" fill="#56B4E9" fill-opacity="0.9"/>
<circle cx="121.55" cy="129.03" r="0.75" fill="#56B4E9" fill-opacity="0.9"/>
<circle cx="120.07" cy="131.88" r="0.75" fill="#56B4E9" fill-opacity="0.9"/>
<circle cx="116.37" cy="134.10" r="0.75" fill="#56B4E9" fill-opacity="0.9"/>
<circle cx="119.53" cy="135.25" r="0.75" fill="#56B4E9" fill-opacity="0.9"/>
<circle cx="119.19" cy="138.39" r="0.75" fill="#56B4E9" fill-opacity="0.9"/>
<circle cx="121.71" cy="140.07" r="0.75" fill="#56B4E9" fill-opacity="0.9"/>
<circle cx="118.51" cy="141.63" r="0.75" fill="#56B4E9" fill-opacity="0.9"/>
<circle cx="119.05" cy="143.38" r="0.75" fill="#56B4E9" fill-opacity="0.9"/>
<circle cx="116.61" cy="145.99" r="0.75" fill="#56B4E9" fill-opacity="0.9"/>
<circle cx="121.23" cy="147.24" r="0.75" fill="#56B4E9" fill-opacity="0.9"/>
<circle cx="117.14" cy="149.52" r="0.75" fill="#56B4E9" fill-opacity="0.9"/>
<circle cx="117.98" cy="151.00" r="0.75" fill="#56B4E9" fill-opacity="0.9"/>
<circle cx="121.84" cy="152.71" r="0.75" fill="#56B4E9" fill-opacity="0.9"/>
<circle cx="118.45" cy="154.35" r="0.75" fill="#56B4E9" fill-opacity="0.9"/>
<circle cx="120.54" cy="155.26" r="0.75" fill="#56B4E9" fill-opacity="0.9"/>
<circle cx="116.23" cy="156.95" r="0.75" fill="#56B4E9" fill-opacity="0.9"/>
<circle cx="121.19" cy="158.90" r="0.75" fill="#56B4E9" fill-opacity="0.9"/>
<circle cx="119.81" cy="160.40" r="0.75" fill="#56B4E9" fill-opacity="0.9"/>
<circle cx="118.02" cy="161.76" r="0.75" fill="#56B4E9" fill-opacity="0.9"/>
<circle cx="118.36" cy="164.25" r="0.75" fill="#56B4E9" fill-opacity="0.9"/>
<circle cx="119.02" cy="165.58" r="0.75" fill="#56B4E9" fill-opacity="0.9"/>
<circle cx="118.64" cy="166.81" r="0.75" fill="#56B4E9" fill-opacity="0.9"/>
<circle cx="119.55" cy="168.67" r="0.75" fill="#56B4E9" fill-opacity="0.9"/>
<circle cx="116.21" cy="170.92" r="0.75" fill="#56B4E9" fill-opacity="0.9"/>
<circle cx="121.90" cy="171.85" r="0.75" fill="#56B4E9" fill-opacity="0.9"/>
<circle cx="120.32" cy="174.46" r="0.75" fill="#56B4E9" fill-opacity="0.9"/>
<circle cx="118.35" cy="175.33" r="0.75" fill="#56B4E9" fill-opacity="0.9"/>
<circle cx="120.51" cy="177.50" r="0.75" fill="#56B4E9" fill-opacity="0.9"/>
<circle cx="116.88" cy="179.23" r="0.75" fill="#56B4E9" fill-opacity="0.9"/>
<circle cx="121.42" cy="180.46" r="0.75" fill="#56B4E9" fill-opacity="0.9"/>
<circle cx="121.16" cy="182.13" r="0.75" fill="#56B4E9" fill-opacity="0.9"/>
<circle cx="117.21" cy="184.23" r="0.75" fill="#56B4E9" fill-opacity="0.9"/>
<circle cx="117.73" cy="185.96" r="0.75" fill="#56B4E9" fill-opacity="0.9"/>
<circle cx="121.18" cy="188.41" r="0.75" fill="#56B4E9" fill-opacity="0.9"/>
<circle cx="118.64" cy="190.44" r="0.75" fill="#56B4E9" fill-opacity="0.9"/>
<circle cx="117.64" cy="192.00" r="0.75" fill="#56B4E9" fill-opacity="0.9"/>
<circle cx="120.73" cy="193.77" r="0.75" fill="#56B4E9" fill-opacity="0.9"/>
<circle cx="121.92" cy="195.21" r="0.75" fill="#56B4E9" fill-opacity="0.9"/>
<circle cx="119.25" cy="198.23" r="0.75" fill="#56B4E9" fill-opacity="0.9"/>
<circle cx="118.89" cy="200.52" r="0.75" fill="#56B4E9" fill-opacity="0.9"/>
<circle cx="118.38" cy="202.19" r="0.75" fill="#56B4E9" fill-opacity="0.9"/>
<circle cx="116.21" cy="204.34" r="0.75" fill="#56B4E9" fill-opacity="0.9"/>
<circle cx="121.58" cy="207.29" r="0.75" fill="#56B4E9" fill-opacity="0.9"/>
<circle cx="122.17" cy="211.00" r="0.75" fill="#56B4E9" fill-opacity="0.9"/>
<circle cx="117.69" cy="213.62" r="0.75" fill="#56B4E9" fill-opacity="0.9"/>
<circle cx="119.22" cy="216.06" r="0.75" fill="#56B4E9" fill-opacity="0.9"/>
<circle cx="122.16" cy="219.18" r="0.75" fill="#56B4E9" fill-opacity="0.9"/>
<circle cx="117.70" cy="221.28" r="0.75" fill="#56B4E9" fill-opacity="0.9"/>
<circle cx="117.41" cy="225.81" r="0.75" fill="#56B4E9" fill-opacity="0.9"/>
<circle cx="119.63" cy="232.00" r="0.75" fill="#56B4E9" fill-opacity="0.9"/>
<circle cx="120.00" cy="238.70" r="0.75" fill="#56B4E9" fill-opacity="0.9"/>
<circle cx="173.92" cy="88.70" r="0.75" fill="#009E73" fill-opacity="0.9"/>
<circle cx="172.55" cy="97.27" r="0.75" fill="#009E73" fill-opacity="0.9"/>
<circle cx="171.97" cy="99.53" r="0.75" fill="#009E73" fill-opacity="0.9"/>
<circle cx="173.14" cy="103.32" r="0.75" fill="#009E73" fill-opacity="0.9"/>
<circle cx="172.42" cy="106.55" r="0.75" fill="#009E73" fill-opacity="0.9"/>
<circle cx="172.08" cy="110.69" r="0.75" fill="#009E73" fill-opacity="0.9"/>
<circle cx="174.74" cy="114.08" r="0.75" fill="#009E73" fill-opacity="0.9"/>
<circle cx="172.54" cy="115.88" r="0.75" fill="#009E73" fill-opacity="0.9"/>
<circle cx="174.04" cy="118.61" r="0.75" fill="#009E73" fill-opacity="0.9"/>
<circle cx="173.92" cy="121.37" r="0.75" fill="#009E73" fill-opacity="0.9"/>
<circle cx="172.47" cy="124.66" r="0.75" fill="#009E73" fill-opacity="0.9"/>
<circle cx="172.45" cy="127.37" r="0.75" fill="#009E73" fill-opacity="0.9"/>
<circle cx="175.90" cy="129.44" r="0.75" fill="#009E73" fill-opacity="0.9"/>
<circle cx="172.17" cy="131.47" r="0.75" fill="#009E73" fill-opacity="0.9"/>
<circle cx="175.70" cy="132.94" r="0.75" fill="#009E73" fill-opacity="0.9"/>
<circle cx="176.48" cy="135.07" r="0.75" fill="#009E73" fill-opacity="0.9"/>
<circle cx="173.72" cy="137.98" r="0.75" fill="#009E73" fill-opacity="0.9"/>
<circle cx="177.35" cy="138.94" r="0.75" fill="#009E73" fill-opacity="0.9"/>
<circle cx="173.90" cy="141.06" r="0.75" fill="#009E73" fill-opacity="0.9"/>
<circle cx="177.42" cy="143.64" r="0.75" fill="#009E73" fill-opacity="0.9"/>
<circle cx="176.63" cy="144.98" r="0.75" fill="#009E73" fill-opacity="0.9"/>
<circle cx="172.51" cy="147.30" r="0.75" fill="#009E73" fill-opacity="0.9"/>
<circle cx="176.50" cy="149.78" r="0.75" fill="#009E73" fill-opacity="0.9"/>
<circle cx="177.70" cy="150.80" r="0.75" fill="#009E73" fill-opacity="0.9"/>
<circle cx="175.30" cy="153.96" r="0.75" fill="#009E73" fill-opacity="0.9"/>
<circle cx="175.81" cy="155.06" r="0.75" fill="#009E73" fill-opacity="0.9"/>
<circle cx="177.77" cy="156.40" r="0.75" fill="#009E73" fill-opacity="0.9"/>
<circle cx="173.94" cy="159.16" r="0.75" fill="#009E73" fill-opacity="0.9"/>
<circle cx="172.63" cy="160.08" r="0.75" fill="#009E73" fill-opacity="0.9"/>
<circle cx="172.06" cy="161.97" r="0.75" fill="#009E73" fill-opacity="0.9"/>
<circle cx="173.37" cy="164.54" r="0.75" fill="#009E73" fill-opacity="0.9"/>
<circle cx="172.39" cy="166.59" r="0.75" fill="#009E73" fill-opacity="0.9"/>
<circle cx="176.57" cy="167.48" r="0.75" fill="#009E73" fill-opacity="0.9"/>
<circle cx="175.13" cy="170.15" r="0.75" fill="#009E73" fill-opacity="0.9"/>
<circle cx="177.41" cy="171.10" r="0.75" fill="#009E73" fill-opacity="0.9"/>
<circle cx="177.47" cy="173.95" r="0.75" fill="#009E73" fill-opacity="0.9"/>
<circle cx="175.20" cy="175.66" r="0.75" fill="#009E73" fill-opacity="0.9"/>
<circle cx="176.51" cy="177.60" r="0.75" fill="#009E73" fill-opacity="0.9"/>
<circle cx="175.99" cy="178.59" r="0.75" fill="#009E73" fill-opacity="0.9"/>
<circle cx="177.39" cy="181.10" r="0.75" fill="#009E73" fill-opacity="0.9"/>
<circle cx="176.53" cy="182.95" r="0.75" fill="#009E73" fill-opacity="0.9"/>
<circle cx="175.90" cy="183.84" r="0.75" fill="#009E73" fill-opacity="0.9"/>
<circle cx="173.63" cy="186.61" r="0.75" fill="#009E73" fill-opacity="0.9"/>
<circle cx="174.23" cy="188.56" r="0.75" fill="#009E73" fill-opacity="0.9"/>
<circle cx="172.27" cy="190.46" r="0.75" fill="#009E73" fill-opacity="0.9"/>
<circle cx="171.84" cy="192.47" r="0.75" fill="#009E73" fill-opacity="0.9"/>
<circle cx="176.64" cy="194.25" r="0.75" fill="#009E73" fill-opacity="0.9"/>
<circle cx="172.28" cy="196.12" r="0.75" fill="#009E73" fill-opacity="0.9"/>
<circle cx="175.02" cy="198.70" r="0.75" fill="#009E73" fill-opacity="0.9"/>
<circle cx="175.49" cy="200.03" r="0.75" fill="#009E73" fill-opacity="0.9"/>
<circle cx="172.58" cy="203.41" r="0.75" fill="#009E73" fill-opacity="0.9"/>
<circle cx="174.68" cy="205.13" r="0.75" fill="#009E73" fill-opacity="0.9"/>
<circle cx="173.90" cy="206.97" r="0.75" fill="#009E73" fill-opacity="0.9"/>
<circle cx="174.39" cy="210.35" r="0.75" fill="#009E73" fill-opacity="0.9"/>
<circle cx="177.10" cy="212.54" r="0.75" fill="#009E73" fill-opacity="0.9"/>
<circle cx="177.24" cy="215.37" r="0.75" fill="#009E73" fill-opacity="0.9"/>
<circle cx="176.41" cy="217.36" r="0.75" fill="#009E73" fill-opacity="0.9"/>
<circle cx="173.58" cy="218.84" r="0.75" fill="#009E73" fill-opacity="0.9"/>
<circle cx="176.51" cy="223.30" r="0.75" fill="#009E73" fill-opacity="0.9"/>
<circle cx="174.53" cy="226.66" r="0.75" fill="#009E73" fill-opacity="0.9"/>
<circle cx="174.04" cy="229.40" r="0.75" fill="#009E73" fill-opacity="0.9"/>
<circle cx="174.68" cy="234.05" r="0.75" fill="#009E73" fill-opacity="0.9"/>
<circle cx="172.42" cy="237.57" r="0.75" fill="#009E73" fill-opacity="0.9"/>
<circle cx="174.40" cy="243.30" r="0.75" fill="#009E73" fill-opacity="0.9"/>
<line x1="72.2" x2="127.8" y1="37.5" y2="37.5" stroke="#444" stroke-width="0.75"/>
</g>
<rect x="39.5" y="25.4" width="182.50" height="281.80" fill="none" stroke="#333333" stroke-width="0.7"/>
<line x1="35.80" x2="39.5" y1="304.6" y2="304.6" stroke="#333333" stroke-width="1.2"/>
<text x="32.60" y="308.15" text-anchor="end" font-size="9.8" fill="#4D4D4D" stroke="#4D4D4D" stroke-width="0.18">0.1</text>
<line x1="35.80" x2="39.5" y1="212.4" y2="212.4" stroke="#333333" stroke-width="1.2"/>
<text x="32.60" y="215.95" text-anchor="end" font-size="9.8" fill="#4D4D4D" stroke="#4D4D4D" stroke-width="0.18">0.2</text>
<line x1="35.80" x2="39.5" y1="120.2" y2="120.2" stroke="#333333" stroke-width="1.2"/>
<text x="32.60" y="123.75" text-anchor="end" font-size="9.8" fill="#4D4D4D" stroke="#4D4D4D" stroke-width="0.18">0.3</text>
<line x1="35.80" x2="39.5" y1="28.0" y2="28.0" stroke="#333333" stroke-width="1.2"/>
<text x="32.60" y="31.55" text-anchor="end" font-size="9.8" fill="#4D4D4D" stroke="#4D4D4D" stroke-width="0.18">0.4</text>
<line x1="72.2" x2="72.2" y1="307.2" y2="310.90" stroke="#333333" stroke-width="1.2"/>
<text x="72.2" y="320.4" text-anchor="middle" font-size="10.25" fill="#4D4D4D" stroke="#4D4D4D" stroke-width="0.18">CleanAir</text>
<line x1="127.8" x2="127.8" y1="307.2" y2="310.90" stroke="#333333" stroke-width="1.2"/>
<text x="127.8" y="320.4" text-anchor="middle" font-size="10.25" fill="#4D4D4D" stroke="#4D4D4D" stroke-width="0.18">Happiness</text>
<line x1="183.4" x2="183.4" y1="307.2" y2="310.90" stroke="#333333" stroke-width="1.2"/>
<text x="183.4" y="320.4" text-anchor="middle" font-size="10.25" fill="#4D4D4D" stroke="#4D4D4D" stroke-width="0.18">Fear</text>
<text x="100.00" y="35.8" text-anchor="middle" font-size="11.5" font-weight="bold" fill="#000">**</text>
<text transform="translate(13.30,166.30) rotate(-90)" text-anchor="middle" font-size="13" fill="#000">HF peak</text>
<clipPath id="clipB"><rect x="267.6" y="25.4" width="185.80" height="281.80"/></clipPath>
<g clip-path="url(#clipB)">
<line x1="267.6" x2="453.4" y1="233.98" y2="233.98" stroke="#EBEBEB" stroke-width="0.6"/>
<line x1="267.6" x2="453.4" y1="149.33" y2="149.33" stroke="#EBEBEB" stroke-width="0.6"/>
<line x1="267.6" x2="453.4" y1="64.67" y2="64.67" stroke="#EBEBEB" stroke-width="0.6"/>
<line x1="267.6" x2="453.4" y1="276.3" y2="276.3" stroke="#EBEBEB" stroke-width="1.1"/>
<line x1="267.6" x2="453.4" y1="191.65" y2="191.65" stroke="#EBEBEB" stroke-width="1.1"/>
<line x1="267.6" x2="453.4" y1="107.0" y2="107.0" stroke="#EBEBEB" stroke-width="1.1"/>
<line x1="301.5" x2="301.5" y1="25.4" y2="307.2" stroke="#EBEBEB" stroke-width="1.1"/>
<line x1="357.5" x2="357.5" y1="25.4" y2="307.2" stroke="#EBEBEB" stroke-width="1.1"/>
<line x1="413.5" x2="413.5" y1="25.4" y2="307.2" stroke="#EBEBEB" stroke-width="1.1"/>
<path d="M315.40,57.10 L316.30,57.10 L315.46,57.60 L315.53,58.10 L315.59,58.60 L315.65,59.10 L315.71,59.60 L315.78,60.10 L315.84,60.60 L315.91,61.10 L315.97,61.60 L316.04,62.10 L316.10,62.60 L316.17,63.10 L316.23,63.60 L316.30,64.10 L316.36,64.60 L316.43,65.10 L316.50,65.60 L316.56,66.10 L316.63,66.60 L316.70,67.10 L316.77,67.60 L316.83,68.10 L316.90,68.60 L316.97,69.10 L317.04,69.60 L317.11,70.10 L317.18,70.60 L317.25,71.10 L317.32,71.60 L317.39,72.10 L317.46,72.60 L317.53,73.10 L317.60,73.60 L317.67,74.10 L317.74,74.60 L317.81,75.10 L317.89,75.60 L317.96,76.10 L318.03,76.60 L318.10,77.10 L318.17,77.60 L318.25,78.10 L318.32,78.60 L318.39,79.10 L318.47,79.60 L318.54,80.10 L318.61,80.60 L318.69,81.10 L318.76,81.60 L318.83,82.10 L318.91,82.60 L318.98,83.10 L319.06,83.60 L319.13,84.10 L319.21,84.60 L319.28,85.10 L319.36,85.60 L319.43,86.10 L319.50,86.60 L319.58,87.10 L319.65,87.60 L319.73,88.10 L319.80,88.60 L319.88,89.10 L319.95,89.60 L320.03,90.10 L320.11,90.60 L320.18,91.10 L320.26,91.60 L320.33,92.10 L320.41,92.60 L320.49,93.10 L320.56,93.60 L320.64,94.10 L320.72,94.60 L320.80,95.10 L320.88,95.60 L320.96,96.10 L321.04,96.60 L321.13,97.10 L321.21,97.60 L321.30,98.10 L321.39,98.60 L321.48,99.10 L321.57,99.60 L321.66,100.10 L321.76,100.60 L321.86,101.10 L321.96,101.60 L322.06,102.10 L322.16,102.60 L322.27,103.10 L322.38,103.60 L322.49,104.10 L322.61,104.60 L322.73,105.10 L322.85,105.60 L322.97,106.10 L323.09,106.60 L323.22,107.10 L323.35,107.60 L323.48,108.10 L323.61,108.60 L323.74,109.10 L323.87,109.60 L324.01,110.10 L324.14,110.60 L324.28,111.10 L324.42,111.60 L324.55,112.10 L324.69,112.60 L324.83,113.10 L324.96,113.60 L325.10,114.10 L325.23,114.60 L325.37,115.10 L325.50,115.60 L325.64,116.10 L325.77,116.60 L325.91,117.10 L326.04,117.60 L326.17,118.10 L326.31,118.60 L326.44,119.10 L326.57,119.60 L326.70,120.10 L326.83,120.60 L326.96,121.10 L327.09,121.60 L327.22,122.10 L327.35,122.60 L327.48,123.10 L327.61,123.60 L327.74,124.10 L327.86,124.60 L327.99,125.10 L328.12,125.60 L328.24,126.10 L328.37,126.60 L328.49,127.10 L328.62,127.60 L328.74,128.10 L328.87,128.60 L328.99,129.10 L329.11,129.60 L329.24,130.10 L329.36,130.60 L329.48,131.10 L329.60,131.60 L329.72,132.10 L329.84,132.60 L329.96,133.10 L330.08,133.60 L330.20,134.10 L330.32,134.60 L330.44,135.10 L330.56,135.60 L330.67,136.10 L330.79,136.60 L330.91,137.10 L331.03,137.60 L331.15,138.10 L331.27,138.60 L331.38,139.10 L331.50,139.60 L331.62,140.10 L331.74,140.60 L331.86,141.10 L331.98,141.60 L332.10,142.10 L332.22,142.60 L332.34,143.10 L332.46,143.60 L332.59,144.10 L332.71,144.60 L332.83,145.10 L332.96,145.60 L333.08,146.10 L333.21,146.60 L333.34,147.10 L333.46,147.60 L333.59,148.10 L333.72,148.60 L333.84,149.10 L333.97,149.60 L334.10,150.10 L334.23,150.60 L334.36,151.10 L334.48,151.60 L334.61,152.10 L334.73,152.60 L334.86,153.10 L334.98,153.60 L335.11,154.10 L335.23,154.60 L335.35,155.10 L335.47,155.60 L335.58,156.10 L335.70,156.60 L335.81,157.10 L335.93,157.60 L336.04,158.10 L336.15,158.60 L336.26,159.10 L336.36,159.60 L336.47,160.10 L336.57,160.60 L336.68,161.10 L336.78,161.60 L336.88,162.10 L336.99,162.60 L337.09,163.10 L337.19,163.60 L337.29,164.10 L337.39,164.60 L337.49,165.10 L337.59,165.60 L337.69,166.10 L337.79,166.60 L337.88,167.10 L337.98,167.60 L338.08,168.10 L338.18,168.60 L338.27,169.10 L338.37,169.60 L338.46,170.10 L338.55,170.60 L338.65,171.10 L338.74,171.60 L338.82,172.10 L338.91,172.60 L338.99,173.10 L339.08,173.60 L339.16,174.10 L339.23,174.60 L339.31,175.10 L339.38,175.60 L339.45,176.10 L339.52,176.60 L339.58,177.10 L339.64,177.60 L339.70,178.10 L339.76,178.60 L339.81,179.10 L339.86,179.60 L339.90,180.10 L339.95,180.60 L339.99,181.10 L340.03,181.60 L340.06,182.10 L340.09,182.60 L340.12,183.10 L340.15,183.60 L340.17,184.10 L340.19,184.60 L340.21,185.10 L340.23,185.60 L340.24,186.10 L340.25,186.60 L340.26,187.10 L340.27,187.60 L340.27,188.10 L340.27,188.60 L340.27,189.10 L340.27,189.60 L340.26,190.10 L340.25,190.60 L340.24,191.10 L340.23,191.60 L340.21,192.10 L340.19,192.60 L340.17,193.10 L340.15,193.60 L340.12,194.10 L340.09,194.60 L340.06,195.10 L340.03,195.60 L339.99,196.10 L339.95,196.60 L339.91,197.10 L339.86,197.60 L339.81,198.10 L339.76,198.60 L339.70,199.10 L339.64,199.60 L339.58,200.10 L339.52,200.60 L339.45,201.10 L339.38,201.60 L339.31,202.10 L339.23,202.60 L339.15,203.10 L339.07,203.60 L338.99,204.10 L338.90,204.60 L338.81,205.10 L338.72,205.60 L338.63,206.10 L338.53,206.60 L338.43,207.10 L338.33,207.60 L338.23,208.10 L338.12,208.60 L338.02,209.10 L337.91,209.60 L337.80,210.10 L337.68,210.60 L337.57,211.10 L337.45,211.60 L337.33,212.10 L337.21,212.60 L337.09,213.10 L336.97,213.60 L336.84,214.10 L336.72,214.60 L336.59,215.10 L336.46,215.60 L336.32,216.10 L336.19,216.60 L336.05,217.10 L335.92,217.60 L335.78,218.10 L335.63,218.60 L335.49,219.10 L335.35,219.60 L335.20,220.10 L335.05,220.60 L334.90,221.10 L334.75,221.60 L334.59,222.10 L334.44,222.60 L334.28,223.10 L334.12,223.60 L333.96,224.10 L333.79,224.60 L333.63,225.10 L333.46,225.60 L333.29,226.10 L333.12,226.60 L332.95,227.10 L332.77,227.60 L332.59,228.10 L332.42,228.60 L332.23,229.10 L332.05,229.60 L331.87,230.10 L331.68,230.60 L331.50,231.10 L331.31,231.60 L331.12,232.10 L330.93,232.60 L330.74,233.10 L330.55,233.60 L330.35,234.10 L330.16,234.60 L329.97,235.10 L329.78,235.60 L329.58,236.10 L329.39,236.60 L329.20,237.10 L329.01,237.60 L328.82,238.10 L328.62,238.60 L328.44,239.10 L328.25,239.60 L328.06,240.10 L327.87,240.60 L327.69,241.10 L327.50,241.60 L327.32,242.10 L327.14,242.60 L326.96,243.10 L326.78,243.60 L326.61,244.10 L326.44,244.60 L326.26,245.10 L326.09,245.60 L325.92,246.10 L325.76,246.60 L325.59,247.10 L325.42,247.60 L325.26,248.10 L325.10,248.60 L324.94,249.10 L324.77,249.60 L324.61,250.10 L324.46,250.60 L324.30,251.10 L324.14,251.60 L323.98,252.10 L323.82,252.60 L323.66,253.10 L323.50,253.60 L323.35,254.10 L323.19,254.60 L323.03,255.10 L322.88,255.60 L322.72,256.10 L322.57,256.60 L322.41,257.10 L322.26,257.60 L322.11,258.10 L321.96,258.60 L321.81,259.10 L321.67,259.60 L321.52,260.10 L321.38,260.60 L321.24,261.10 L321.10,261.60 L320.97,262.10 L320.83,262.60 L320.70,263.10 L320.57,263.60 L320.45,264.10 L320.32,264.60 L320.20,265.10 L320.08,265.60 L319.97,266.10 L319.85,266.60 L319.74,267.10 L319.63,267.60 L319.53,268.10 L319.42,268.60 L319.32,269.10 L319.22,269.60 L319.13,270.10 L319.03,270.60 L318.94,271.10 L318.85,271.60 L318.76,272.10 L318.67,272.60 L318.58,273.10 L318.50,273.60 L318.42,274.10 L318.34,274.60 L318.26,275.10 L318.19,275.60 L318.11,276.10 L318.04,276.60 L317.97,277.10 L317.91,277.60 L317.84,278.10 L317.78,278.60 L317.72,279.10 L317.66,279.60 L317.60,280.10 L317.54,280.60 L317.48,281.10 L317.43,281.60 L317.38,282.10 L317.33,282.60 L317.28,283.10 L317.23,283.60 L317.19,284.10 L317.14,284.60 L317.09,285.10 L317.04,285.60 L316.98,286.10 L316.93,286.60 L316.86,287.10 L316.79,287.60 L316.71,288.10 L316.63,288.60 L316.55,289.10 L316.46,289.60 L316.36,290.10 L316.27,290.60 L316.17,291.10 L316.06,291.60 L315.96,292.10 L315.85,292.60 L315.73,293.10 L315.62,293.60 L315.50,294.10 L316.10,294.50 L315.40,294.50 Z" fill="#E69F00"/>
<path d="M372.00,48.70 L372.90,48.70 L372.06,49.20 L372.12,49.70 L372.19,50.20 L372.25,50.70 L372.31,51.20 L372.37,51.70 L372.43,52.20 L372.49,52.70 L372.56,53.20 L372.62,53.70 L372.68,54.20 L372.74,54.70 L372.80,55.20 L372.86,55.70 L372.92,56.20 L372.98,56.70 L373.04,57.20 L373.10,57.70 L373.16,58.20 L373.22,58.70 L373.28,59.20 L373.34,59.70 L373.40,60.20 L373.46,60.70 L373.51,61.20 L373.57,61.70 L373.63,62.20 L373.69,62.70 L373.75,63.20 L373.80,63.70 L373.86,64.20 L373.92,64.70 L373.97,65.20 L374.03,65.70 L374.09,66.20 L374.14,66.70 L374.20,67.20 L374.25,67.70 L374.31,68.20 L374.36,68.70 L374.41,69.20 L374.47,69.70 L374.52,70.20 L374.58,70.70 L374.63,71.20 L374.69,71.70 L374.75,72.20 L374.80,72.70 L374.86,73.20 L374.91,73.70 L374.97,74.20 L375.03,74.70 L375.08,75.20 L375.14,75.70 L375.20,76.20 L375.26,76.70 L375.32,77.20 L375.38,77.70 L375.44,78.20 L375.50,78.70 L375.56,79.20 L375.63,79.70 L375.69,80.20 L375.75,80.70 L375.82,81.20 L375.88,81.70 L375.95,82.20 L376.02,82.70 L376.09,83.20 L376.16,83.70 L376.23,84.20 L376.30,84.70 L376.37,85.20 L376.44,85.70 L376.52,86.20 L376.59,86.70 L376.67,87.20 L376.75,87.70 L376.82,88.20 L376.90,88.70 L376.98,89.20 L377.06,89.70 L377.14,90.20 L377.22,90.70 L377.30,91.20 L377.38,91.70 L377.46,92.20 L377.54,92.70 L377.63,93.20 L377.71,93.70 L377.79,94.20 L377.88,94.70 L377.96,95.20 L378.05,95.70 L378.13,96.20 L378.22,96.70 L378.30,97.20 L378.39,97.70 L378.48,98.20 L378.57,98.70 L378.66,99.20 L378.75,99.70 L378.85,100.20 L378.94,100.70 L379.04,101.20 L379.14,101.70 L379.24,102.20 L379.34,102.70 L379.45,103.20 L379.56,103.70 L379.67,104.20 L379.79,104.70 L379.91,105.20 L380.03,105.70 L380.16,106.20 L380.29,106.70 L380.42,107.20 L380.55,107.70 L380.69,108.20 L380.83,108.70 L380.98,109.20 L381.12,109.70 L381.27,110.20 L381.42,110.70 L381.58,111.20 L381.73,111.70 L381.88,112.20 L382.04,112.70 L382.20,113.20 L382.35,113.70 L382.51,114.20 L382.67,114.70 L382.82,115.20 L382.98,115.70 L383.14,116.20 L383.29,116.70 L383.45,117.20 L383.60,117.70 L383.76,118.20 L383.91,118.70 L384.07,119.20 L384.22,119.70 L384.37,120.20 L384.53,120.70 L384.68,121.20 L384.83,121.70 L384.98,122.20 L385.14,122.70 L385.29,123.20 L385.44,123.70 L385.59,124.20 L385.74,124.70 L385.89,125.20 L386.04,125.70 L386.19,126.20 L386.34,126.70 L386.49,127.20 L386.63,127.70 L386.78,128.20 L386.93,128.70 L387.07,129.20 L387.21,129.70 L387.36,130.20 L387.50,130.70 L387.64,131.20 L387.78,131.70 L387.91,132.20 L388.05,132.70 L388.18,133.20 L388.32,133.70 L388.45,134.20 L388.58,134.70 L388.71,135.20 L388.83,135.70 L388.96,136.20 L389.08,136.70 L389.20,137.20 L389.32,137.70 L389.44,138.20 L389.56,138.70 L389.68,139.20 L389.80,139.70 L389.91,140.20 L390.03,140.70 L390.14,141.20 L390.25,141.70 L390.36,142.20 L390.47,142.70 L390.58,143.20 L390.69,143.70 L390.79,144.20 L390.90,144.70 L391.00,145.20 L391.11,145.70 L391.21,146.20 L391.31,146.70 L391.41,147.20 L391.51,147.70 L391.61,148.20 L391.71,148.70 L391.80,149.20 L391.90,149.70 L391.99,150.20 L392.08,150.70 L392.18,151.20 L392.27,151.70 L392.36,152.20 L392.45,152.70 L392.54,153.20 L392.62,153.70 L392.71,154.20 L392.80,154.70 L392.89,155.20 L392.97,155.70 L393.06,156.20 L393.15,156.70 L393.23,157.20 L393.32,157.70 L393.41,158.20 L393.49,158.70 L393.58,159.20 L393.67,159.70 L393.75,160.20 L393.84,160.70 L393.92,161.20 L394.01,161.70 L394.09,162.20 L394.18,162.70 L394.26,163.20 L394.34,163.70 L394.42,164.20 L394.49,164.70 L394.57,165.20 L394.64,165.70 L394.71,166.20 L394.78,166.70 L394.85,167.20 L394.91,167.70 L394.97,168.20 L395.03,168.70 L395.08,169.20 L395.13,169.70 L395.18,170.20 L395.23,170.70 L395.27,171.20 L395.30,171.70 L395.34,172.20 L395.37,172.70 L395.40,173.20 L395.43,173.70 L395.45,174.20 L395.47,174.70 L395.49,175.20 L395.50,175.70 L395.52,176.20 L395.53,176.70 L395.54,177.20 L395.55,177.70 L395.55,178.20 L395.56,178.70 L395.56,179.20 L395.56,179.70 L395.56,180.20 L395.56,180.70 L395.55,181.20 L395.55,181.70 L395.54,182.20 L395.53,182.70 L395.53,183.20 L395.51,183.70 L395.50,184.20 L395.49,184.70 L395.47,185.20 L395.45,185.70 L395.44,186.20 L395.41,186.70 L395.39,187.20 L395.37,187.70 L395.34,188.20 L395.31,188.70 L395.28,189.20 L395.25,189.70 L395.21,190.20 L395.17,190.70 L395.13,191.20 L395.09,191.70 L395.05,192.20 L395.00,192.70 L394.95,193.20 L394.90,193.70 L394.85,194.20 L394.80,194.70 L394.74,195.20 L394.68,195.70 L394.62,196.20 L394.56,196.70 L394.49,197.20 L394.42,197.70 L394.35,198.20 L394.28,198.70 L394.21,199.20 L394.13,199.70 L394.05,200.20 L393.97,200.70 L393.89,201.20 L393.81,201.70 L393.72,202.20 L393.64,202.70 L393.55,203.20 L393.45,203.70 L393.36,204.20 L393.26,204.70 L393.17,205.20 L393.07,205.70 L392.96,206.20 L392.86,206.70 L392.75,207.20 L392.64,207.70 L392.53,208.20 L392.42,208.70 L392.30,209.20 L392.18,209.70 L392.05,210.20 L391.93,210.70 L391.80,211.20 L391.67,211.70 L391.54,212.20 L391.40,212.70 L391.26,213.20 L391.12,213.70 L390.97,214.20 L390.83,214.70 L390.68,215.20 L390.53,215.70 L390.38,216.20 L390.22,216.70 L390.06,217.20 L389.91,217.70 L389.75,218.20 L389.59,218.70 L389.43,219.20 L389.26,219.70 L389.10,220.20 L388.93,220.70 L388.77,221.20 L388.60,221.70 L388.43,222.20 L388.26,222.70 L388.09,223.20 L387.91,223.70 L387.74,224.20 L387.56,224.70 L387.38,225.20 L387.20,225.70 L387.02,226.20 L386.84,226.70 L386.66,227.20 L386.47,227.70 L386.29,228.20 L386.10,228.70 L385.91,229.20 L385.73,229.70 L385.54,230.20 L385.35,230.70 L385.16,231.20 L384.97,231.70 L384.78,232.20 L384.60,232.70 L384.41,233.20 L384.23,233.70 L384.04,234.20 L383.86,234.70 L383.68,235.20 L383.50,235.70 L383.32,236.20 L383.14,236.70 L382.97,237.20 L382.80,237.70 L382.63,238.20 L382.46,238.70 L382.29,239.20 L382.12,239.70 L381.96,240.20 L381.80,240.70 L381.64,241.20 L381.48,241.70 L381.33,242.20 L381.17,242.70 L381.02,243.20 L380.87,243.70 L380.72,244.20 L380.57,244.70 L380.43,245.20 L380.28,245.70 L380.13,246.20 L379.99,246.70 L379.85,247.20 L379.70,247.70 L379.56,248.20 L379.42,248.70 L379.27,249.20 L379.13,249.70 L378.99,250.20 L378.85,250.70 L378.71,251.20 L378.57,251.70 L378.42,252.20 L378.28,252.70 L378.14,253.20 L378.01,253.70 L377.87,254.20 L377.73,254.70 L377.59,255.20 L377.46,255.70 L377.33,256.20 L377.20,256.70 L377.07,257.20 L376.94,257.70 L376.81,258.20 L376.69,258.70 L376.57,259.20 L376.45,259.70 L376.34,260.20 L376.23,260.70 L376.12,261.20 L376.01,261.70 L375.91,262.20 L375.81,262.70 L375.71,263.20 L375.62,263.70 L375.53,264.20 L375.44,264.70 L375.36,265.20 L375.27,265.70 L375.20,266.20 L375.12,266.70 L375.04,267.20 L374.97,267.70 L374.90,268.20 L374.83,268.70 L374.77,269.20 L374.70,269.70 L374.64,270.20 L374.57,270.70 L374.51,271.20 L374.45,271.70 L374.40,272.20 L374.34,272.70 L374.29,273.20 L374.23,273.70 L374.18,274.20 L374.13,274.70 L374.07,275.20 L374.02,275.70 L373.97,276.20 L373.92,276.70 L373.88,277.20 L373.83,277.70 L373.78,278.20 L373.73,278.70 L373.69,279.20 L373.65,279.70 L373.60,280.20 L373.56,280.70 L373.52,281.20 L373.48,281.70 L373.44,282.20 L373.40,282.70 L373.36,283.20 L373.31,283.70 L373.27,284.20 L373.21,284.70 L373.15,285.20 L373.09,285.70 L373.02,286.20 L372.95,286.70 L372.87,287.20 L372.79,287.70 L372.70,288.20 L372.62,288.70 L372.52,289.20 L372.43,289.70 L372.33,290.20 L372.23,290.70 L372.13,291.20 L372.02,291.70 L372.70,291.80 L372.00,291.80 Z" fill="#56B4E9"/>
<path d="M428.40,57.10 L429.30,57.10 L428.46,57.60 L428.52,58.10 L428.58,58.60 L428.64,59.10 L428.70,59.60 L428.76,60.10 L428.82,60.60 L428.89,61.10 L428.95,61.60 L429.01,62.10 L429.08,62.60 L429.14,63.10 L429.21,63.60 L429.27,64.10 L429.34,64.60 L429.41,65.10 L429.48,65.60 L429.55,66.10 L429.62,66.60 L429.69,67.10 L429.76,67.60 L429.83,68.10 L429.91,68.60 L429.98,69.10 L430.05,69.60 L430.13,70.10 L430.20,70.60 L430.28,71.10 L430.36,71.60 L430.43,72.10 L430.51,72.60 L430.59,73.10 L430.67,73.60 L430.75,74.10 L430.83,74.60 L430.91,75.10 L430.99,75.60 L431.07,76.10 L431.15,76.60 L431.23,77.10 L431.32,77.60 L431.40,78.10 L431.49,78.60 L431.57,79.10 L431.66,79.60 L431.74,80.10 L431.83,80.60 L431.92,81.10 L432.01,81.60 L432.09,82.10 L432.18,82.60 L432.27,83.10 L432.36,83.60 L432.45,84.10 L432.54,84.60 L432.64,85.10 L432.73,85.60 L432.82,86.10 L432.92,86.60 L433.01,87.10 L433.11,87.60 L433.20,88.10 L433.30,88.60 L433.40,89.10 L433.49,89.60 L433.59,90.10 L433.69,90.60 L433.79,91.10 L433.89,91.60 L434.00,92.10 L434.10,92.60 L434.20,93.10 L434.31,93.60 L434.41,94.10 L434.52,94.60 L434.63,95.10 L434.74,95.60 L434.85,96.10 L434.96,96.60 L435.08,97.10 L435.19,97.60 L435.31,98.10 L435.43,98.60 L435.55,99.10 L435.67,99.60 L435.80,100.10 L435.92,100.60 L436.05,101.10 L436.18,101.60 L436.32,102.10 L436.45,102.60 L436.59,103.10 L436.73,103.60 L436.87,104.10 L437.02,104.60 L437.17,105.10 L437.32,105.60 L437.47,106.10 L437.62,106.60 L437.78,107.10 L437.94,107.60 L438.10,108.10 L438.26,108.60 L438.43,109.10 L438.59,109.60 L438.76,110.10 L438.93,110.60 L439.09,111.10 L439.26,111.60 L439.43,112.10 L439.60,112.60 L439.77,113.10 L439.94,113.60 L440.11,114.10 L440.28,114.60 L440.45,115.10 L440.61,115.60 L440.78,116.10 L440.95,116.60 L441.11,117.10 L441.28,117.60 L441.44,118.10 L441.60,118.60 L441.76,119.10 L441.93,119.60 L442.09,120.10 L442.25,120.60 L442.40,121.10 L442.56,121.60 L442.72,122.10 L442.88,122.60 L443.04,123.10 L443.20,123.60 L443.35,124.10 L443.51,124.60 L443.67,125.10 L443.83,125.60 L443.99,126.10 L444.15,126.60 L444.31,127.10 L444.47,127.60 L444.63,128.10 L444.80,128.60 L444.96,129.10 L445.13,129.60 L445.29,130.10 L445.46,130.60 L445.63,131.10 L445.80,131.60 L445.96,132.10 L446.13,132.60 L446.30,133.10 L446.47,133.60 L446.64,134.10 L446.80,134.60 L446.97,135.10 L447.14,135.60 L447.30,136.10 L447.46,136.60 L447.63,137.10 L447.79,137.60 L447.95,138.10 L448.10,138.60 L448.26,139.10 L448.41,139.60 L448.56,140.10 L448.71,140.60 L448.86,141.10 L449.01,141.60 L449.15,142.10 L449.30,142.60 L449.44,143.10 L449.58,143.60 L449.71,144.10 L449.85,144.60 L449.98,145.10 L450.12,145.60 L450.25,146.10 L450.38,146.60 L450.50,147.10 L450.63,147.60 L450.76,148.10 L450.88,148.60 L451.00,149.10 L451.12,149.60 L451.24,150.10 L451.36,150.60 L451.47,151.10 L451.59,151.60 L451.70,152.10 L451.81,152.60 L451.93,153.10 L452.03,153.60 L452.14,154.10 L452.25,154.60 L452.35,155.10 L452.46,155.60 L452.56,156.10 L452.66,156.60 L452.76,157.10 L452.86,157.60 L452.95,158.10 L453.05,158.60 L453.14,159.10 L453.23,159.60 L453.32,160.10 L453.40,160.60 L453.48,161.10 L453.57,161.60 L453.64,162.10 L453.72,162.60 L453.79,163.10 L453.86,163.60 L453.93,164.10 L453.99,164.60 L454.05,165.10 L454.11,165.60 L454.17,166.10 L454.22,166.60 L454.27,167.10 L454.31,167.60 L454.36,168.10 L454.40,168.60 L454.43,169.10 L454.46,169.60 L454.49,170.10 L454.52,170.60 L454.54,171.10 L454.56,171.60 L454.57,172.10 L454.58,172.60 L454.59,173.10 L454.59,173.60 L454.59,174.10 L454.59,174.60 L454.58,175.10 L454.57,175.60 L454.56,176.10 L454.54,176.60 L454.52,177.10 L454.49,177.60 L454.46,178.10 L454.43,178.60 L454.39,179.10 L454.35,179.60 L454.30,180.10 L454.25,180.60 L454.20,181.10 L454.14,181.60 L454.08,182.10 L454.02,182.60 L453.95,183.10 L453.88,183.60 L453.80,184.10 L453.72,184.60 L453.64,185.10 L453.55,185.60 L453.46,186.10 L453.37,186.60 L453.27,187.10 L453.17,187.60 L453.07,188.10 L452.96,188.60 L452.85,189.10 L452.74,189.60 L452.62,190.10 L452.50,190.60 L452.38,191.10 L452.26,191.60 L452.13,192.10 L452.01,192.60 L451.88,193.10 L451.74,193.60 L451.61,194.10 L451.47,194.60 L451.33,195.10 L451.19,195.60 L451.04,196.10 L450.90,196.60 L450.75,197.10 L450.60,197.60 L450.45,198.10 L450.30,198.60 L450.15,199.10 L449.99,199.60 L449.83,200.10 L449.67,200.60 L449.51,201.10 L449.35,201.60 L449.19,202.10 L449.03,202.60 L448.86,203.10 L448.70,203.60 L448.53,204.10 L448.36,204.60 L448.20,205.10 L448.03,205.60 L447.86,206.10 L447.69,206.60 L447.52,207.10 L447.35,207.60 L447.18,208.10 L447.01,208.60 L446.84,209.10 L446.67,209.60 L446.50,210.10 L446.33,210.60 L446.16,211.10 L445.99,211.60 L445.82,212.10 L445.65,212.60 L445.49,213.10 L445.32,213.60 L445.15,214.10 L444.99,214.60 L444.82,215.10 L444.66,215.60 L444.49,216.10 L444.33,216.60 L444.17,217.10 L444.01,217.60 L443.85,218.10 L443.69,218.60 L443.53,219.10 L443.37,219.60 L443.22,220.10 L443.06,220.60 L442.90,221.10 L442.75,221.60 L442.59,222.10 L442.44,222.60 L442.29,223.10 L442.13,223.60 L441.98,224.10 L441.82,224.60 L441.67,225.10 L441.52,225.60 L441.36,226.10 L441.21,226.60 L441.05,227.10 L440.90,227.60 L440.74,228.10 L440.59,228.60 L440.43,229.10 L440.28,229.60 L440.12,230.10 L439.96,230.60 L439.80,231.10 L439.64,231.60 L439.48,232.10 L439.32,232.60 L439.16,233.10 L439.00,233.60 L438.84,234.10 L438.67,234.60 L438.51,235.10 L438.34,235.60 L438.18,236.10 L438.01,236.60 L437.84,237.10 L437.68,237.60 L437.51,238.10 L437.34,238.60 L437.17,239.10 L437.01,239.60 L436.84,240.10 L436.67,240.60 L436.50,241.10 L436.34,241.60 L436.17,242.10 L436.01,242.60 L435.85,243.10 L435.68,243.60 L435.53,244.10 L435.37,244.60 L435.21,245.10 L435.06,245.60 L434.91,246.10 L434.76,246.60 L434.61,247.10 L434.47,247.60 L434.33,248.10 L434.19,248.60 L434.05,249.10 L433.92,249.60 L433.79,250.10 L433.66,250.60 L433.53,251.10 L433.41,251.60 L433.29,252.10 L433.17,252.60 L433.06,253.10 L432.94,253.60 L432.83,254.10 L432.72,254.60 L432.62,255.10 L432.51,255.60 L432.41,256.10 L432.31,256.60 L432.21,257.10 L432.11,257.60 L432.01,258.10 L431.92,258.60 L431.83,259.10 L431.74,259.60 L431.65,260.10 L431.56,260.60 L431.47,261.10 L431.39,261.60 L431.31,262.10 L431.22,262.60 L431.14,263.10 L431.07,263.60 L430.99,264.10 L430.91,264.60 L430.83,265.10 L430.76,265.60 L430.69,266.10 L430.61,266.60 L430.55,267.10 L430.48,267.60 L430.42,268.10 L430.36,268.60 L430.30,269.10 L430.24,269.60 L430.18,270.10 L430.12,270.60 L430.06,271.10 L429.99,271.60 L429.91,272.10 L429.83,272.60 L429.75,273.10 L429.66,273.60 L429.56,274.10 L429.45,274.60 L429.34,275.10 L429.22,275.60 L429.10,276.10 L428.97,276.60 L428.84,277.10 L428.71,277.60 L428.57,278.10 L428.43,278.60 L429.10,278.70 L428.40,278.70 Z" fill="#009E73"/>
<line x1="315.4" x2="315.4" y1="99.2" y2="155.2" stroke="#333333" stroke-width="0.6" stroke-opacity="0.8"/>
<line x1="315.4" x2="315.4" y1="210.2" y2="251.8" stroke="#333333" stroke-width="0.6" stroke-opacity="0.8"/>
<rect x="312.60" y="155.2" width="5.20" height="55.00" fill="#E69F00" fill-opacity="0.3" stroke="#333333" stroke-width="0.65" stroke-opacity="0.6"/>
<line x1="312.60" x2="317.80" y1="184.8" y2="184.8" stroke="#333333" stroke-width="0.9"/>
<line x1="372.0" x2="372.0" y1="90.6" y2="148.5" stroke="#333333" stroke-width="0.6" stroke-opacity="0.8"/>
<line x1="372.0" x2="372.0" y1="206" y2="249.3" stroke="#333333" stroke-width="0.6" stroke-opacity="0.8"/>
<rect x="369.20" y="148.5" width="5.20" height="57.50" fill="#56B4E9" fill-opacity="0.3" stroke="#333333" stroke-width="0.65" stroke-opacity="0.6"/>
<line x1="369.20" x2="374.40" y1="177.0" y2="177.0" stroke="#333333" stroke-width="0.9"/>
<line x1="428.4" x2="428.4" y1="96.9" y2="146.3" stroke="#333333" stroke-width="0.6" stroke-opacity="0.8"/>
<line x1="428.4" x2="428.4" y1="197.5" y2="237.5" stroke="#333333" stroke-width="0.6" stroke-opacity="0.8"/>
<rect x="425.60" y="146.3" width="5.20" height="51.20" fill="#009E73" fill-opacity="0.3" stroke="#333333" stroke-width="0.65" stroke-opacity="0.6"/>
<line x1="425.60" x2="430.80" y1="173.3" y2="173.3" stroke="#333333" stroke-width="0.9"/>
<circle cx="291.54" cy="99.50" r="0.75" fill="#E69F00" fill-opacity="0.9"/>
<circle cx="295.59" cy="109.12" r="0.75" fill="#E69F00" fill-opacity="0.9"/>
<circle cx="295.67" cy="114.10" r="0.75" fill="#E69F00" fill-opacity="0.9"/>
<circle cx="293.40" cy="116.95" r="0.75" fill="#E69F00" fill-opacity="0.9"/>
<circle cx="295.86" cy="120.84" r="0.75" fill="#E69F00" fill-opacity="0.9"/>
<circle cx="293.78" cy="123.79" r="0.75" fill="#E69F00" fill-opacity="0.9"/>
<circle cx="292.31" cy="128.46" r="0.75" fill="#E69F00" fill-opacity="0.9"/>
<circle cx="292.73" cy="131.42" r="0.75" fill="#E69F00" fill-opacity="0.9"/>
<circle cx="290.48" cy="134.06" r="0.75" fill="#E69F00" fill-opacity="0.9"/>
<circle cx="295.03" cy="135.59" r="0.75" fill="#E69F00" fill-opacity="0.9"/>
<circle cx="289.92" cy="138.50" r="0.75" fill="#E69F00" fill-opacity="0.9"/>
<circle cx="291.65" cy="142.73" r="0.75" fill="#E69F00" fill-opacity="0.9"/>
<circle cx="290.97" cy="144.70" r="0.75" fill="#E69F00" fill-opacity="0.9"/>
<circle cx="291.42" cy="145.90" r="0.75" fill="#E69F00" fill-opacity="0.9"/>
<circle cx="294.34" cy="149.20" r="0.75" fill="#E69F00" fill-opacity="0.9"/>
<circle cx="290.51" cy="151.36" r="0.75" fill="#E69F00" fill-opacity="0.9"/>
<circle cx="290.38" cy="153.69" r="0.75" fill="#E69F00" fill-opacity="0.9"/>
<circle cx="290.17" cy="154.91" r="0.75" fill="#E69F00" fill-opacity="0.9"/>
<circle cx="292.28" cy="157.37" r="0.75" fill="#E69F00" fill-opacity="0.9"/>
<circle cx="291.73" cy="160.33" r="0.75" fill="#E69F00" fill-opacity="0.9"/>
<circle cx="293.74" cy="161.25" r="0.75" fill="#E69F00" fill-opacity="0.9"/>
<circle cx="290.71" cy="163.71" r="0.75" fill="#E69F00" fill-opacity="0.9"/>
<circle cx="295.28" cy="166.05" r="0.75" fill="#E69F00" fill-opacity="0.9"/>
<circle cx="289.96" cy="167.82" r="0.75" fill="#E69F00" fill-opacity="0.9"/>
<circle cx="293.55" cy="168.77" r="0.75" fill="#E69F00" fill-opacity="0.9"/>
<circle cx="290.05" cy="170.72" r="0.75" fill="#E69F00" fill-opacity="0.9"/>
<circle cx="290.70" cy="172.17" r="0.75" fill="#E69F00" fill-opacity="0.9"/>
<circle cx="293.09" cy="175.08" r="0.75" fill="#E69F00" fill-opacity="0.9"/>
<circle cx="290.07" cy="176.50" r="0.75" fill="#E69F00" fill-opacity="0.9"/>
<circle cx="290.84" cy="178.27" r="0.75" fill="#E69F00" fill-opacity="0.9"/>
<circle cx="292.82" cy="180.29" r="0.75" fill="#E69F00" fill-opacity="0.9"/>
<circle cx="290.15" cy="181.87" r="0.75" fill="#E69F00" fill-opacity="0.9"/>
<circle cx="290.90" cy="182.58" r="0.75" fill="#E69F00" fill-opacity="0.9"/>
<circle cx="294.83" cy="184.55" r="0.75" fill="#E69F00" fill-opacity="0.9"/>
<circle cx="293.85" cy="187.04" r="0.75" fill="#E69F00" fill-opacity="0.9"/>
<circle cx="292.16" cy="188.16" r="0.75" fill="#E69F00" fill-opacity="0.9"/>
<circle cx="295.62" cy="189.14" r="0.75" fill="#E69F00" fill-opacity="0.9"/>
<circle cx="290.13" cy="191.83" r="0.75" fill="#E69F00" fill-opacity="0.9"/>
<circle cx="294.12" cy="192.54" r="0.75" fill="#E69F00" fill-opacity="0.9"/>
<circle cx="292.91" cy="194.41" r="0.75" fill="#E69F00" fill-opacity="0.9"/>
<circle cx="294.81" cy="196.45" r="0.75" fill="#E69F00" fill-opacity="0.9"/>
<circle cx="294.28" cy="198.46" r="0.75" fill="#E69F00" fill-opacity="0.9"/>
<circle cx="292.31" cy="199.79" r="0.75" fill="#E69F00" fill-opacity="0.9"/>
<circle cx="293.00" cy="202.32" r="0.75" fill="#E69F00" fill-opacity="0.9"/>
<circle cx="293.01" cy="204.03" r="0.75" fill="#E69F00" fill-opacity="0.9"/>
<circle cx="291.40" cy="204.48" r="0.75" fill="#E69F00" fill-opacity="0.9"/>
<circle cx="293.07" cy="207.48" r="0.75" fill="#E69F00" fill-opacity="0.9"/>
<circle cx="291.61" cy="209.30" r="0.75" fill="#E69F00" fill-opacity="0.9"/>
<circle cx="294.79" cy="210.98" r="0.75" fill="#E69F00" fill-opacity="0.9"/>
<circle cx="291.89" cy="212.38" r="0.75" fill="#E69F00" fill-opacity="0.9"/>
<circle cx="290.34" cy="214.04" r="0.75" fill="#E69F00" fill-opacity="0.9"/>
<circle cx="292.65" cy="215.97" r="0.75" fill="#E69F00" fill-opacity="0.9"/>
<circle cx="294.54" cy="217.90" r="0.75" fill="#E69F00" fill-opacity="0.9"/>
<circle cx="291.73" cy="220.46" r="0.75" fill="#E69F00" fill-opacity="0.9"/>
<circle cx="293.64" cy="222.19" r="0.75" fill="#E69F00" fill-opacity="0.9"/>
<circle cx="292.53" cy="224.64" r="0.75" fill="#E69F00" fill-opacity="0.9"/>
<circle cx="292.85" cy="227.61" r="0.75" fill="#E69F00" fill-opacity="0.9"/>
<circle cx="292.15" cy="229.10" r="0.75" fill="#E69F00" fill-opacity="0.9"/>
<circle cx="295.47" cy="231.49" r="0.75" fill="#E69F00" fill-opacity="0.9"/>
<circle cx="294.71" cy="236.05" r="0.75" fill="#E69F00" fill-opacity="0.9"/>
<circle cx="295.83" cy="238.47" r="0.75" fill="#E69F00" fill-opacity="0.9"/>
<circle cx="293.31" cy="240.75" r="0.75" fill="#E69F00" fill-opacity="0.9"/>
<circle cx="295.71" cy="246.73" r="0.75" fill="#E69F00" fill-opacity="0.9"/>
<circle cx="292.35" cy="251.50" r="0.75" fill="#E69F00" fill-opacity="0.9"/>
<circle cx="346.36" cy="90.90" r="0.75" fill="#56B4E9" fill-opacity="0.9"/>
<circle cx="351.12" cy="102.04" r="0.75" fill="#56B4E9" fill-opacity="0.9"/>
<circle cx="346.64" cy="105.34" r="0.75" fill="#56B4E9" fill-opacity="0.9"/>
<circle cx="347.85" cy="109.93" r="0.75" fill="#56B4E9" fill-opacity="0.9"/>
<circle cx="351.67" cy="116.33" r="0.75" fill="#56B4E9" fill-opacity="0.9"/>
<circle cx="349.98" cy="118.96" r="0.75" fill="#56B4E9" fill-opacity="0.9"/>
<circle cx="346.20" cy="121.24" r="0.75" fill="#56B4E9" fill-opacity="0.9"/>
<circle cx="350.90" cy="124.40" r="0.75" fill="#56B4E9" fill-opacity="0.9"/>
<circle cx="346.18" cy="127.17" r="0.75" fill="#56B4E9" fill-opacity="0.9"/>
<circle cx="349.14" cy="129.95" r="0.75" fill="#56B4E9" fill-opacity="0.9"/>
<circle cx="346.08" cy="132.47" r="0.75" fill="#56B4E9" fill-opacity="0.9"/>
<circle cx="349.47" cy="136.16" r="0.75" fill="#56B4E9" fill-opacity="0.9"/>
<circle cx="348.90" cy="137.27" r="0.75" fill="#56B4E9" fill-opacity="0.9"/>
<circle cx="351.66" cy="139.67" r="0.75" fill="#56B4E9" fill-opacity="0.9"/>
<circle cx="347.88" cy="141.93" r="0.75" fill="#56B4E9" fill-opacity="0.9"/>
<circle cx="350.64" cy="144.89" r="0.75" fill="#56B4E9" fill-opacity="0.9"/>
<circle cx="350.22" cy="146.89" r="0.75" fill="#56B4E9" fill-opacity="0.9"/>
<circle cx="346.50" cy="149.78" r="0.75" fill="#56B4E9" fill-opacity="0.9"/>
<circle cx="347.61" cy="151.59" r="0.75" fill="#56B4E9" fill-opacity="0.9"/>
<circle cx="346.15" cy="153.11" r="0.75" fill="#56B4E9" fill-opacity="0.9"/>
<circle cx="347.48" cy="154.30" r="0.75" fill="#56B4E9" fill-opacity="0.9"/>
<circle cx="349.24" cy="157.12" r="0.75" fill="#56B4E9" fill-opacity="0.9"/>
<circle cx="350.89" cy="158.44" r="0.75" fill="#56B4E9" fill-opacity="0.9"/>
<circle cx="347.27" cy="160.85" r="0.75" fill="#56B4E9" fill-opacity="0.9"/>
<circle cx="351.04" cy="163.05" r="0.75" fill="#56B4E9" fill-opacity="0.9"/>
<circle cx="350.04" cy="164.91" r="0.75" fill="#56B4E9" fill-opacity="0.9"/>
<circle cx="346.42" cy="166.14" r="0.75" fill="#56B4E9" fill-opacity="0.9"/>
<circle cx="348.38" cy="168.12" r="0.75" fill="#56B4E9" fill-opacity="0.9"/>
<circle cx="348.72" cy="169.63" r="0.75" fill="#56B4E9" fill-opacity="0.9"/>
<circle cx="350.02" cy="171.51" r="0.75" fill="#56B4E9" fill-opacity="0.9"/>
<circle cx="351.69" cy="172.59" r="0.75" fill="#56B4E9" fill-opacity="0.9"/>
<circle cx="347.52" cy="174.42" r="0.75" fill="#56B4E9" fill-opacity="0.9"/>
<circle cx="347.64" cy="176.20" r="0.75" fill="#56B4E9" fill-opacity="0.9"/>
<circle cx="346.26" cy="177.99" r="0.75" fill="#56B4E9" fill-opacity="0.9"/>
<circle cx="350.67" cy="180.38" r="0.75" fill="#56B4E9" fill-opacity="0.9"/>
<circle cx="346.48" cy="181.27" r="0.75" fill="#56B4E9" fill-opacity="0.9"/>
<circle cx="350.94" cy="183.22" r="0.75" fill="#56B4E9" fill-opacity="0.9"/>
<circle cx="349.36" cy="185.79" r="0.75" fill="#56B4E9" fill-opacity="0.9"/>
<circle cx="347.30" cy="187.26" r="0.75" fill="#56B4E9" fill-opacity="0.9"/>
<circle cx="349.07" cy="189.40" r="0.75" fill="#56B4E9" fill-opacity="0.9"/>
<circle cx="346.44" cy="190.26" r="0.75" fill="#56B4E9" fill-opacity="0.9"/>
<circle cx="347.65" cy="192.82" r="0.75" fill="#56B4E9" fill-opacity="0.9"/>
<circle cx="348.40" cy="193.55" r="0.75" fill="#56B4E9" fill-opacity="0.9"/>
<circle cx="347.28" cy="195.41" r="0.75" fill="#56B4E9" fill-opacity="0.9"/>
<circle cx="346.61" cy="197.95" r="0.75" fill="#56B4E9" fill-opacity="0.9"/>
<circle cx="346.90" cy="199.83" r="0.75" fill="#56B4E9" fill-opacity="0.9"/>
<circle cx="346.10" cy="201.01" r="0.75" fill="#56B4E9" fill-opacity="0.9"/>
<circle cx="348.91" cy="203.45" r="0.75" fill="#56B4E9" fill-opacity="0.9"/>
<circle cx="346.64" cy="204.80" r="0.75" fill="#56B4E9" fill-opacity="0.9"/>
<circle cx="347.37" cy="207.86" r="0.75" fill="#56B4E9" fill-opacity="0.9"/>
<circle cx="348.41" cy="208.59" r="0.75" fill="#56B4E9" fill-opacity="0.9"/>
<circle cx="348.87" cy="210.76" r="0.75" fill="#56B4E9" fill-opacity="0.9"/>
<circle cx="347.32" cy="214.02" r="0.75" fill="#56B4E9" fill-opacity="0.9"/>
<circle cx="349.03" cy="215.37" r="0.75" fill="#56B4E9" fill-opacity="0.9"/>
<circle cx="348.20" cy="218.49" r="0.75" fill="#56B4E9" fill-opacity="0.9"/>
<circle cx="351.13" cy="219.68" r="0.75" fill="#56B4E9" fill-opacity="0.9"/>
<circle cx="349.49" cy="223.39" r="0.75" fill="#56B4E9" fill-opacity="0.9"/>
<circle cx="350.14" cy="224.63" r="0.75" fill="#56B4E9" fill-opacity="0.9"/>
<circle cx="348.07" cy="227.05" r="0.75" fill="#56B4E9" fill-opacity="0.9"/>
<circle cx="346.00" cy="230.07" r="0.75" fill="#56B4E9" fill-opacity="0.9"/>
<circle cx="347.86" cy="234.59" r="0.75" fill="#56B4E9" fill-opacity="0.9"/>
<circle cx="348.69" cy="238.75" r="0.75" fill="#56B4E9" fill-opacity="0.9"/>
<circle cx="350.61" cy="240.77" r="0.75" fill="#56B4E9" fill-opacity="0.9"/>
<circle cx="351.18" cy="249.00" r="0.75" fill="#56B4E9" fill-opacity="0.9"/>
<circle cx="406.65" cy="97.20" r="0.75" fill="#009E73" fill-opacity="0.9"/>
<circle cx="403.43" cy="105.92" r="0.75" fill="#009E73" fill-opacity="0.9"/>
<circle cx="407.34" cy="107.73" r="0.75" fill="#009E73" fill-opacity="0.9"/>
<circle cx="405.54" cy="113.43" r="0.75" fill="#009E73" fill-opacity="0.9"/>
<circle cx="403.86" cy="117.04" r="0.75" fill="#009E73" fill-opacity="0.9"/>
<circle cx="407.10" cy="119.96" r="0.75" fill="#009E73" fill-opacity="0.9"/>
<circle cx="403.93" cy="122.03" r="0.75" fill="#009E73" fill-opacity="0.9"/>
<circle cx="406.04" cy="125.74" r="0.75" fill="#009E73" fill-opacity="0.9"/>
<circle cx="404.05" cy="127.83" r="0.75" fill="#009E73" fill-opacity="0.9"/>
<circle cx="406.07" cy="129.69" r="0.75" fill="#009E73" fill-opacity="0.9"/>
<circle cx="405.74" cy="131.90" r="0.75" fill="#009E73" fill-opacity="0.9"/>
<circle cx="407.66" cy="134.14" r="0.75" fill="#009E73" fill-opacity="0.9"/>
<circle cx="405.83" cy="137.48" r="0.75" fill="#009E73" fill-opacity="0.9"/>
<circle cx="405.44" cy="139.64" r="0.75" fill="#009E73" fill-opacity="0.9"/>
<circle cx="405.80" cy="141.49" r="0.75" fill="#009E73" fill-opacity="0.9"/>
<circle cx="403.35" cy="143.46" r="0.75" fill="#009E73" fill-opacity="0.9"/>
<circle cx="405.63" cy="145.39" r="0.75" fill="#009E73" fill-opacity="0.9"/>
<circle cx="401.97" cy="147.00" r="0.75" fill="#009E73" fill-opacity="0.9"/>
<circle cx="404.77" cy="148.92" r="0.75" fill="#009E73" fill-opacity="0.9"/>
<circle cx="404.36" cy="150.89" r="0.75" fill="#009E73" fill-opacity="0.9"/>
<circle cx="402.22" cy="152.56" r="0.75" fill="#009E73" fill-opacity="0.9"/>
<circle cx="406.00" cy="154.38" r="0.75" fill="#009E73" fill-opacity="0.9"/>
<circle cx="407.11" cy="155.00" r="0.75" fill="#009E73" fill-opacity="0.9"/>
<circle cx="403.37" cy="157.16" r="0.75" fill="#009E73" fill-opacity="0.9"/>
<circle cx="404.28" cy="158.81" r="0.75" fill="#009E73" fill-opacity="0.9"/>
<circle cx="402.17" cy="160.55" r="0.75" fill="#009E73" fill-opacity="0.9"/>
<circle cx="406.76" cy="162.71" r="0.75" fill="#009E73" fill-opacity="0.9"/>
<circle cx="405.93" cy="164.24" r="0.75" fill="#009E73" fill-opacity="0.9"/>
<circle cx="405.42" cy="165.13" r="0.75" fill="#009E73" fill-opacity="0.9"/>
<circle cx="404.52" cy="167.30" r="0.75" fill="#009E73" fill-opacity="0.9"/>
<circle cx="402.72" cy="168.92" r="0.75" fill="#009E73" fill-opacity="0.9"/>
<circle cx="407.28" cy="170.03" r="0.75" fill="#009E73" fill-opacity="0.9"/>
<circle cx="404.38" cy="171.97" r="0.75" fill="#009E73" fill-opacity="0.9"/>
<circle cx="404.53" cy="173.65" r="0.75" fill="#009E73" fill-opacity="0.9"/>
<circle cx="402.58" cy="175.01" r="0.75" fill="#009E73" fill-opacity="0.9"/>
<circle cx="404.21" cy="175.89" r="0.75" fill="#009E73" fill-opacity="0.9"/>
<circle cx="406.96" cy="177.62" r="0.75" fill="#009E73" fill-opacity="0.9"/>
<circle cx="403.47" cy="179.13" r="0.75" fill="#009E73" fill-opacity="0.9"/>
<circle cx="402.74" cy="180.39" r="0.75" fill="#009E73" fill-opacity="0.9"/>
<circle cx="404.67" cy="182.28" r="0.75" fill="#009E73" fill-opacity="0.9"/>
<circle cx="406.66" cy="184.27" r="0.75" fill="#009E73" fill-opacity="0.9"/>
<circle cx="404.33" cy="185.76" r="0.75" fill="#009E73" fill-opacity="0.9"/>
<circle cx="407.20" cy="187.21" r="0.75" fill="#009E73" fill-opacity="0.9"/>
<circle cx="403.88" cy="188.62" r="0.75" fill="#009E73" fill-opacity="0.9"/>
<circle cx="402.87" cy="191.14" r="0.75" fill="#009E73" fill-opacity="0.9"/>
<circle cx="406.93" cy="191.76" r="0.75" fill="#009E73" fill-opacity="0.9"/>
<circle cx="406.81" cy="194.06" r="0.75" fill="#009E73" fill-opacity="0.9"/>
<circle cx="402.38" cy="195.87" r="0.75" fill="#009E73" fill-opacity="0.9"/>
<circle cx="407.24" cy="196.81" r="0.75" fill="#009E73" fill-opacity="0.9"/>
<circle cx="407.07" cy="200.02" r="0.75" fill="#009E73" fill-opacity="0.9"/>
<circle cx="401.94" cy="201.49" r="0.75" fill="#009E73" fill-opacity="0.9"/>
<circle cx="407.41" cy="202.93" r="0.75" fill="#009E73" fill-opacity="0.9"/>
<circle cx="406.80" cy="205.26" r="0.75" fill="#009E73" fill-opacity="0.9"/>
<circle cx="403.62" cy="206.54" r="0.75" fill="#009E73" fill-opacity="0.9"/>
<circle cx="404.18" cy="209.59" r="0.75" fill="#009E73" fill-opacity="0.9"/>
<circle cx="402.33" cy="212.08" r="0.75" fill="#009E73" fill-opacity="0.9"/>
<circle cx="407.78" cy="214.28" r="0.75" fill="#009E73" fill-opacity="0.9"/>
<circle cx="404.37" cy="216.15" r="0.75" fill="#009E73" fill-opacity="0.9"/>
<circle cx="405.50" cy="218.46" r="0.75" fill="#009E73" fill-opacity="0.9"/>
<circle cx="406.06" cy="221.52" r="0.75" fill="#009E73" fill-opacity="0.9"/>
<circle cx="404.02" cy="225.64" r="0.75" fill="#009E73" fill-opacity="0.9"/>
<circle cx="407.28" cy="227.39" r="0.75" fill="#009E73" fill-opacity="0.9"/>
<circle cx="403.36" cy="231.20" r="0.75" fill="#009E73" fill-opacity="0.9"/>
<circle cx="404.13" cy="237.20" r="0.75" fill="#009E73" fill-opacity="0.9"/>
<line x1="301.5" x2="413.5" y1="37.5" y2="37.5" stroke="#444" stroke-width="0.75"/>
</g>
<rect x="267.6" y="25.4" width="185.80" height="281.80" fill="none" stroke="#333333" stroke-width="0.7"/>
<line x1="263.90" x2="267.6" y1="276.3" y2="276.3" stroke="#333333" stroke-width="1.2"/>
<text x="260.70" y="279.85" text-anchor="end" font-size="9.8" fill="#4D4D4D" stroke="#4D4D4D" stroke-width="0.18">0</text>
<line x1="263.90" x2="267.6" y1="191.65" y2="191.65" stroke="#333333" stroke-width="1.2"/>
<text x="260.70" y="195.20" text-anchor="end" font-size="9.8" fill="#4D4D4D" stroke="#4D4D4D" stroke-width="0.18">40</text>
<line x1="263.90" x2="267.6" y1="107.0" y2="107.0" stroke="#333333" stroke-width="1.2"/>
<text x="260.70" y="110.55" text-anchor="end" font-size="9.8" fill="#4D4D4D" stroke="#4D4D4D" stroke-width="0.18">80</text>
<line x1="301.5" x2="301.5" y1="307.2" y2="310.90" stroke="#333333" stroke-width="1.2"/>
<text x="301.5" y="320.4" text-anchor="middle" font-size="10.25" fill="#4D4D4D" stroke="#4D4D4D" stroke-width="0.18">CleanAir</text>
<line x1="357.5" x2="357.5" y1="307.2" y2="310.90" stroke="#333333" stroke-width="1.2"/>
<text x="357.5" y="320.4" text-anchor="middle" font-size="10.25" fill="#4D4D4D" stroke="#4D4D4D" stroke-width="0.18">Happiness</text>
<line x1="413.5" x2="413.5" y1="307.2" y2="310.90" stroke="#333333" stroke-width="1.2"/>
<text x="413.5" y="320.4" text-anchor="middle" font-size="10.25" fill="#4D4D4D" stroke="#4D4D4D" stroke-width="0.18">Fear</text>
<text x="357.50" y="35.8" text-anchor="middle" font-size="11.5" font-weight="bold" fill="#000">**</text>
<text transform="translate(244.80,166.30) rotate(-90)" text-anchor="middle" font-size="13" fill="#000">HF nu</text>
<clipPath id="clipC"><rect x="499.0" y="25.4" width="185.40" height="281.80"/></clipPath>
<g clip-path="url(#clipC)">
<line x1="499.0" x2="684.4" y1="235.42" y2="235.42" stroke="#EBEBEB" stroke-width="0.6"/>
<line x1="499.0" x2="684.4" y1="150.07" y2="150.07" stroke="#EBEBEB" stroke-width="0.6"/>
<line x1="499.0" x2="684.4" y1="64.72" y2="64.72" stroke="#EBEBEB" stroke-width="0.6"/>
<line x1="499.0" x2="684.4" y1="278.1" y2="278.1" stroke="#EBEBEB" stroke-width="1.1"/>
<line x1="499.0" x2="684.4" y1="192.75" y2="192.75" stroke="#EBEBEB" stroke-width="1.1"/>
<line x1="499.0" x2="684.4" y1="107.4" y2="107.4" stroke="#EBEBEB" stroke-width="1.1"/>
<line x1="532.4" x2="532.4" y1="25.4" y2="307.2" stroke="#EBEBEB" stroke-width="1.1"/>
<line x1="589.0" x2="589.0" y1="25.4" y2="307.2" stroke="#EBEBEB" stroke-width="1.1"/>
<line x1="645.6" x2="645.6" y1="25.4" y2="307.2" stroke="#EBEBEB" stroke-width="1.1"/>
<path d="M547.20,46.90 L548.10,46.90 L547.29,47.40 L547.37,47.90 L547.46,48.40 L547.54,48.90 L547.63,49.40 L547.71,49.90 L547.80,50.40 L547.88,50.90 L547.97,51.40 L548.05,51.90 L548.14,52.40 L548.22,52.90 L548.31,53.40 L548.40,53.90 L548.48,54.40 L548.57,54.90 L548.65,55.40 L548.74,55.90 L548.82,56.40 L548.91,56.90 L548.99,57.40 L549.08,57.90 L549.16,58.40 L549.25,58.90 L549.33,59.40 L549.41,59.90 L549.50,60.40 L549.58,60.90 L549.66,61.40 L549.74,61.90 L549.82,62.40 L549.90,62.90 L549.99,63.40 L550.07,63.90 L550.15,64.40 L550.23,64.90 L550.31,65.40 L550.39,65.90 L550.48,66.40 L550.56,66.90 L550.65,67.40 L550.73,67.90 L550.82,68.40 L550.90,68.90 L550.99,69.40 L551.08,69.90 L551.17,70.40 L551.26,70.90 L551.35,71.40 L551.44,71.90 L551.53,72.40 L551.62,72.90 L551.72,73.40 L551.81,73.90 L551.91,74.40 L552.01,74.90 L552.11,75.40 L552.21,75.90 L552.31,76.40 L552.42,76.90 L552.52,77.40 L552.63,77.90 L552.74,78.40 L552.85,78.90 L552.96,79.40 L553.07,79.90 L553.18,80.40 L553.30,80.90 L553.42,81.40 L553.54,81.90 L553.66,82.40 L553.78,82.90 L553.91,83.40 L554.03,83.90 L554.16,84.40 L554.29,84.90 L554.43,85.40 L554.56,85.90 L554.70,86.40 L554.83,86.90 L554.97,87.40 L555.12,87.90 L555.26,88.40 L555.41,88.90 L555.56,89.40 L555.71,89.90 L555.86,90.40 L556.02,90.90 L556.18,91.40 L556.34,91.90 L556.50,92.40 L556.67,92.90 L556.84,93.40 L557.01,93.90 L557.19,94.40 L557.37,94.90 L557.55,95.40 L557.73,95.90 L557.92,96.40 L558.10,96.90 L558.29,97.40 L558.48,97.90 L558.68,98.40 L558.87,98.90 L559.07,99.40 L559.26,99.90 L559.46,100.40 L559.66,100.90 L559.86,101.40 L560.06,101.90 L560.25,102.40 L560.45,102.90 L560.65,103.40 L560.85,103.90 L561.05,104.40 L561.24,104.90 L561.44,105.40 L561.63,105.90 L561.83,106.40 L562.02,106.90 L562.21,107.40 L562.40,107.90 L562.59,108.40 L562.78,108.90 L562.96,109.40 L563.15,109.90 L563.33,110.40 L563.51,110.90 L563.69,111.40 L563.87,111.90 L564.05,112.40 L564.23,112.90 L564.40,113.40 L564.58,113.90 L564.75,114.40 L564.92,114.90 L565.09,115.40 L565.26,115.90 L565.43,116.40 L565.59,116.90 L565.76,117.40 L565.92,117.90 L566.09,118.40 L566.25,118.90 L566.41,119.40 L566.57,119.90 L566.72,120.40 L566.88,120.90 L567.03,121.40 L567.19,121.90 L567.34,122.40 L567.49,122.90 L567.64,123.40 L567.78,123.90 L567.93,124.40 L568.07,124.90 L568.21,125.40 L568.35,125.90 L568.49,126.40 L568.62,126.90 L568.76,127.40 L568.89,127.90 L569.02,128.40 L569.14,128.90 L569.26,129.40 L569.39,129.90 L569.50,130.40 L569.62,130.90 L569.73,131.40 L569.84,131.90 L569.95,132.40 L570.06,132.90 L570.16,133.40 L570.26,133.90 L570.36,134.40 L570.45,134.90 L570.55,135.40 L570.63,135.90 L570.72,136.40 L570.80,136.90 L570.88,137.40 L570.96,137.90 L571.04,138.40 L571.11,138.90 L571.18,139.40 L571.25,139.90 L571.31,140.40 L571.37,140.90 L571.43,141.40 L571.49,141.90 L571.54,142.40 L571.59,142.90 L571.64,143.40 L571.69,143.90 L571.73,144.40 L571.77,144.90 L571.81,145.40 L571.85,145.90 L571.88,146.40 L571.92,146.90 L571.95,147.40 L571.97,147.90 L572.00,148.40 L572.02,148.90 L572.04,149.40 L572.06,149.90 L572.07,150.40 L572.08,150.90 L572.09,151.40 L572.09,151.90 L572.09,152.40 L572.09,152.90 L572.08,153.40 L572.07,153.90 L572.06,154.40 L572.04,154.90 L572.02,155.40 L571.99,155.90 L571.96,156.40 L571.92,156.90 L571.88,157.40 L571.83,157.90 L571.78,158.40 L571.73,158.90 L571.67,159.40 L571.61,159.90 L571.54,160.40 L571.47,160.90 L571.40,161.40 L571.32,161.90 L571.24,162.40 L571.15,162.90 L571.06,163.40 L570.97,163.90 L570.88,164.40 L570.78,164.90 L570.69,165.40 L570.59,165.90 L570.48,166.40 L570.38,166.90 L570.28,167.40 L570.17,167.90 L570.06,168.40 L569.95,168.90 L569.84,169.40 L569.73,169.90 L569.62,170.40 L569.50,170.90 L569.39,171.40 L569.28,171.90 L569.16,172.40 L569.05,172.90 L568.93,173.40 L568.81,173.90 L568.70,174.40 L568.58,174.90 L568.46,175.40 L568.35,175.90 L568.23,176.40 L568.11,176.90 L567.99,177.40 L567.87,177.90 L567.75,178.40 L567.64,178.90 L567.52,179.40 L567.40,179.90 L567.28,180.40 L567.16,180.90 L567.04,181.40 L566.92,181.90 L566.80,182.40 L566.68,182.90 L566.56,183.40 L566.44,183.90 L566.32,184.40 L566.19,184.90 L566.07,185.40 L565.95,185.90 L565.82,186.40 L565.70,186.90 L565.57,187.40 L565.45,187.90 L565.32,188.40 L565.19,188.90 L565.07,189.40 L564.94,189.90 L564.81,190.40 L564.68,190.90 L564.55,191.40 L564.42,191.90 L564.29,192.40 L564.15,192.90 L564.02,193.40 L563.89,193.90 L563.76,194.40 L563.63,194.90 L563.49,195.40 L563.36,195.90 L563.23,196.40 L563.10,196.90 L562.96,197.40 L562.83,197.90 L562.70,198.40 L562.57,198.90 L562.44,199.40 L562.31,199.90 L562.18,200.40 L562.05,200.90 L561.92,201.40 L561.79,201.90 L561.66,202.40 L561.53,202.90 L561.40,203.40 L561.27,203.90 L561.15,204.40 L561.02,204.90 L560.89,205.40 L560.77,205.90 L560.64,206.40 L560.52,206.90 L560.40,207.40 L560.27,207.90 L560.15,208.40 L560.03,208.90 L559.91,209.40 L559.80,209.90 L559.68,210.40 L559.56,210.90 L559.45,211.40 L559.34,211.90 L559.23,212.40 L559.12,212.90 L559.01,213.40 L558.91,213.90 L558.80,214.40 L558.70,214.90 L558.60,215.40 L558.50,215.90 L558.40,216.40 L558.30,216.90 L558.20,217.40 L558.10,217.90 L558.00,218.40 L557.90,218.90 L557.80,219.40 L557.70,219.90 L557.60,220.40 L557.50,220.90 L557.39,221.40 L557.29,221.90 L557.18,222.40 L557.07,222.90 L556.96,223.40 L556.85,223.90 L556.74,224.40 L556.62,224.90 L556.50,225.40 L556.39,225.90 L556.27,226.40 L556.14,226.90 L556.02,227.40 L555.90,227.90 L555.77,228.40 L555.65,228.90 L555.52,229.40 L555.40,229.90 L555.27,230.40 L555.15,230.90 L555.02,231.40 L554.90,231.90 L554.78,232.40 L554.65,232.90 L554.54,233.40 L554.42,233.90 L554.31,234.40 L554.20,234.90 L554.09,235.40 L553.98,235.90 L553.88,236.40 L553.78,236.90 L553.69,237.40 L553.60,237.90 L553.51,238.40 L553.42,238.90 L553.34,239.40 L553.26,239.90 L553.18,240.40 L553.11,240.90 L553.03,241.40 L552.96,241.90 L552.89,242.40 L552.82,242.90 L552.75,243.40 L552.67,243.90 L552.60,244.40 L552.53,244.90 L552.45,245.40 L552.38,245.90 L552.30,246.40 L552.22,246.90 L552.14,247.40 L552.06,247.90 L551.98,248.40 L551.90,248.90 L551.81,249.40 L551.73,249.90 L551.64,250.40 L551.56,250.90 L551.47,251.40 L551.39,251.90 L551.30,252.40 L551.21,252.90 L551.13,253.40 L551.05,253.90 L550.96,254.40 L550.88,254.90 L550.80,255.40 L550.72,255.90 L550.64,256.40 L550.56,256.90 L550.48,257.40 L550.41,257.90 L550.33,258.40 L550.26,258.90 L550.19,259.40 L550.12,259.90 L550.05,260.40 L549.98,260.90 L549.92,261.40 L549.85,261.90 L549.79,262.40 L549.73,262.90 L549.67,263.40 L549.61,263.90 L549.56,264.40 L549.50,264.90 L549.44,265.40 L549.39,265.90 L549.33,266.40 L549.28,266.90 L549.23,267.40 L549.19,267.90 L549.14,268.40 L549.10,268.90 L549.06,269.40 L549.02,269.90 L548.98,270.40 L548.94,270.90 L548.90,271.40 L548.87,271.90 L548.83,272.40 L548.79,272.90 L548.75,273.40 L548.71,273.90 L548.67,274.40 L548.63,274.90 L548.59,275.40 L548.55,275.90 L548.51,276.40 L548.47,276.90 L548.43,277.40 L548.39,277.90 L548.34,278.40 L548.29,278.90 L548.24,279.40 L548.19,279.90 L548.13,280.40 L548.07,280.90 L548.01,281.40 L547.94,281.90 L547.87,282.40 L547.80,282.90 L547.72,283.40 L547.64,283.90 L547.56,284.40 L547.48,284.90 L547.39,285.40 L547.31,285.90 L547.22,286.40 L547.90,286.50 L547.20,286.50 Z" fill="#E69F00"/>
<path d="M603.40,49.10 L604.30,49.10 L603.45,49.60 L603.50,50.10 L603.56,50.60 L603.61,51.10 L603.67,51.60 L603.72,52.10 L603.78,52.60 L603.84,53.10 L603.90,53.60 L603.95,54.10 L604.01,54.60 L604.07,55.10 L604.13,55.60 L604.20,56.10 L604.26,56.60 L604.32,57.10 L604.39,57.60 L604.45,58.10 L604.52,58.60 L604.59,59.10 L604.65,59.60 L604.72,60.10 L604.79,60.60 L604.86,61.10 L604.93,61.60 L605.00,62.10 L605.07,62.60 L605.14,63.10 L605.21,63.60 L605.29,64.10 L605.36,64.60 L605.44,65.10 L605.51,65.60 L605.59,66.10 L605.67,66.60 L605.74,67.10 L605.82,67.60 L605.90,68.10 L605.98,68.60 L606.06,69.10 L606.14,69.60 L606.23,70.10 L606.31,70.60 L606.39,71.10 L606.48,71.60 L606.56,72.10 L606.65,72.60 L606.74,73.10 L606.82,73.60 L606.91,74.10 L607.00,74.60 L607.09,75.10 L607.18,75.60 L607.27,76.10 L607.36,76.60 L607.45,77.10 L607.54,77.60 L607.64,78.10 L607.73,78.60 L607.83,79.10 L607.92,79.60 L608.02,80.10 L608.12,80.60 L608.21,81.10 L608.31,81.60 L608.41,82.10 L608.51,82.60 L608.61,83.10 L608.72,83.60 L608.82,84.10 L608.92,84.60 L609.03,85.10 L609.13,85.60 L609.24,86.10 L609.35,86.60 L609.46,87.10 L609.57,87.60 L609.68,88.10 L609.79,88.60 L609.90,89.10 L610.02,89.60 L610.14,90.10 L610.26,90.60 L610.38,91.10 L610.50,91.60 L610.63,92.10 L610.75,92.60 L610.88,93.10 L611.02,93.60 L611.15,94.10 L611.29,94.60 L611.43,95.10 L611.57,95.60 L611.72,96.10 L611.87,96.60 L612.02,97.10 L612.18,97.60 L612.34,98.10 L612.50,98.60 L612.67,99.10 L612.83,99.60 L613.01,100.10 L613.18,100.60 L613.36,101.10 L613.54,101.60 L613.72,102.10 L613.90,102.60 L614.09,103.10 L614.28,103.60 L614.46,104.10 L614.65,104.60 L614.84,105.10 L615.03,105.60 L615.22,106.10 L615.41,106.60 L615.59,107.10 L615.78,107.60 L615.97,108.10 L616.15,108.60 L616.34,109.10 L616.52,109.60 L616.70,110.10 L616.88,110.60 L617.06,111.10 L617.24,111.60 L617.42,112.10 L617.60,112.60 L617.78,113.10 L617.95,113.60 L618.13,114.10 L618.30,114.60 L618.48,115.10 L618.65,115.60 L618.82,116.10 L619.00,116.60 L619.17,117.10 L619.34,117.60 L619.51,118.10 L619.68,118.60 L619.85,119.10 L620.02,119.60 L620.19,120.10 L620.36,120.60 L620.53,121.10 L620.69,121.60 L620.86,122.10 L621.02,122.60 L621.19,123.10 L621.35,123.60 L621.51,124.10 L621.67,124.60 L621.83,125.10 L621.99,125.60 L622.14,126.10 L622.29,126.60 L622.45,127.10 L622.60,127.60 L622.74,128.10 L622.89,128.60 L623.03,129.10 L623.17,129.60 L623.31,130.10 L623.45,130.60 L623.58,131.10 L623.71,131.60 L623.84,132.10 L623.97,132.60 L624.09,133.10 L624.21,133.60 L624.33,134.10 L624.45,134.60 L624.56,135.10 L624.67,135.60 L624.78,136.10 L624.89,136.60 L624.99,137.10 L625.09,137.60 L625.19,138.10 L625.29,138.60 L625.38,139.10 L625.48,139.60 L625.57,140.10 L625.66,140.60 L625.75,141.10 L625.84,141.60 L625.92,142.10 L626.00,142.60 L626.09,143.10 L626.17,143.60 L626.24,144.10 L626.32,144.60 L626.40,145.10 L626.47,145.60 L626.54,146.10 L626.61,146.60 L626.68,147.10 L626.75,147.60 L626.81,148.10 L626.87,148.60 L626.93,149.10 L626.99,149.60 L627.05,150.10 L627.11,150.60 L627.16,151.10 L627.21,151.60 L627.26,152.10 L627.30,152.60 L627.35,153.10 L627.39,153.60 L627.43,154.10 L627.46,154.60 L627.50,155.10 L627.53,155.60 L627.56,156.10 L627.58,156.60 L627.60,157.10 L627.62,157.60 L627.64,158.10 L627.65,158.60 L627.66,159.10 L627.66,159.60 L627.66,160.10 L627.66,160.60 L627.65,161.10 L627.64,161.60 L627.63,162.10 L627.61,162.60 L627.59,163.10 L627.57,163.60 L627.54,164.10 L627.51,164.60 L627.48,165.10 L627.45,165.60 L627.41,166.10 L627.37,166.60 L627.33,167.10 L627.28,167.60 L627.24,168.10 L627.19,168.60 L627.14,169.10 L627.09,169.60 L627.04,170.10 L626.98,170.60 L626.92,171.10 L626.86,171.60 L626.81,172.10 L626.74,172.60 L626.68,173.10 L626.62,173.60 L626.55,174.10 L626.48,174.60 L626.42,175.10 L626.35,175.60 L626.27,176.10 L626.20,176.60 L626.13,177.10 L626.05,177.60 L625.98,178.10 L625.90,178.60 L625.82,179.10 L625.74,179.60 L625.66,180.10 L625.58,180.60 L625.49,181.10 L625.41,181.60 L625.33,182.10 L625.24,182.60 L625.15,183.10 L625.06,183.60 L624.97,184.10 L624.88,184.60 L624.79,185.10 L624.70,185.60 L624.61,186.10 L624.51,186.60 L624.41,187.10 L624.32,187.60 L624.22,188.10 L624.12,188.60 L624.02,189.10 L623.91,189.60 L623.81,190.10 L623.70,190.60 L623.59,191.10 L623.48,191.60 L623.37,192.10 L623.26,192.60 L623.14,193.10 L623.03,193.60 L622.91,194.10 L622.79,194.60 L622.66,195.10 L622.54,195.60 L622.41,196.10 L622.29,196.60 L622.16,197.10 L622.03,197.60 L621.89,198.10 L621.76,198.60 L621.62,199.10 L621.49,199.60 L621.35,200.10 L621.21,200.60 L621.07,201.10 L620.93,201.60 L620.79,202.10 L620.64,202.60 L620.50,203.10 L620.35,203.60 L620.21,204.10 L620.06,204.60 L619.92,205.10 L619.77,205.60 L619.62,206.10 L619.47,206.60 L619.32,207.10 L619.18,207.60 L619.03,208.10 L618.88,208.60 L618.73,209.10 L618.58,209.60 L618.43,210.10 L618.28,210.60 L618.13,211.10 L617.98,211.60 L617.84,212.10 L617.69,212.60 L617.54,213.10 L617.39,213.60 L617.25,214.10 L617.10,214.60 L616.96,215.10 L616.81,215.60 L616.67,216.10 L616.53,216.60 L616.39,217.10 L616.25,217.60 L616.11,218.10 L615.97,218.60 L615.83,219.10 L615.69,219.60 L615.55,220.10 L615.42,220.60 L615.28,221.10 L615.14,221.60 L615.01,222.10 L614.87,222.60 L614.73,223.10 L614.60,223.60 L614.46,224.10 L614.32,224.60 L614.18,225.10 L614.04,225.60 L613.90,226.10 L613.76,226.60 L613.62,227.10 L613.48,227.60 L613.34,228.10 L613.19,228.60 L613.05,229.10 L612.90,229.60 L612.75,230.10 L612.61,230.60 L612.46,231.10 L612.31,231.60 L612.16,232.10 L612.01,232.60 L611.87,233.10 L611.72,233.60 L611.57,234.10 L611.42,234.60 L611.28,235.10 L611.13,235.60 L610.99,236.10 L610.85,236.60 L610.71,237.10 L610.57,237.60 L610.44,238.10 L610.30,238.60 L610.18,239.10 L610.05,239.60 L609.93,240.10 L609.81,240.60 L609.70,241.10 L609.58,241.60 L609.48,242.10 L609.38,242.60 L609.28,243.10 L609.18,243.60 L609.09,244.10 L609.01,244.60 L608.93,245.10 L608.85,245.60 L608.77,246.10 L608.70,246.60 L608.63,247.10 L608.57,247.60 L608.50,248.10 L608.44,248.60 L608.38,249.10 L608.32,249.60 L608.27,250.10 L608.21,250.60 L608.16,251.10 L608.10,251.60 L608.05,252.10 L607.99,252.60 L607.94,253.10 L607.89,253.60 L607.83,254.10 L607.78,254.60 L607.72,255.10 L607.67,255.60 L607.61,256.10 L607.55,256.60 L607.49,257.10 L607.44,257.60 L607.38,258.10 L607.32,258.60 L607.26,259.10 L607.19,259.60 L607.13,260.10 L607.07,260.60 L607.01,261.10 L606.95,261.60 L606.88,262.10 L606.82,262.60 L606.76,263.10 L606.69,263.60 L606.63,264.10 L606.57,264.60 L606.51,265.10 L606.45,265.60 L606.38,266.10 L606.32,266.60 L606.26,267.10 L606.20,267.60 L606.15,268.10 L606.09,268.60 L606.03,269.10 L605.97,269.60 L605.92,270.10 L605.86,270.60 L605.81,271.10 L605.75,271.60 L605.70,272.10 L605.64,272.60 L605.59,273.10 L605.54,273.60 L605.48,274.10 L605.43,274.60 L605.38,275.10 L605.33,275.60 L605.28,276.10 L605.23,276.60 L605.18,277.10 L605.13,277.60 L605.08,278.10 L605.03,278.60 L604.98,279.10 L604.93,279.60 L604.88,280.10 L604.83,280.60 L604.78,281.10 L604.73,281.60 L604.69,282.10 L604.64,282.60 L604.60,283.10 L604.55,283.60 L604.51,284.10 L604.48,284.60 L604.44,285.10 L604.41,285.60 L604.37,286.10 L604.34,286.60 L604.31,287.10 L604.28,287.60 L604.24,288.10 L604.20,288.60 L604.16,289.10 L604.12,289.60 L604.07,290.10 L604.02,290.60 L603.96,291.10 L603.90,291.60 L603.84,292.10 L603.77,292.60 L603.70,293.10 L603.63,293.60 L603.55,294.10 L603.48,294.60 L603.40,295.10 L604.10,295.10 L603.40,295.10 Z" fill="#56B4E9"/>
<path d="M659.90,63.70 L660.80,63.70 L659.99,64.20 L660.09,64.70 L660.18,65.20 L660.28,65.70 L660.38,66.20 L660.47,66.70 L660.57,67.20 L660.67,67.70 L660.76,68.20 L660.86,68.70 L660.96,69.20 L661.06,69.70 L661.16,70.20 L661.26,70.70 L661.36,71.20 L661.46,71.70 L661.56,72.20 L661.67,72.70 L661.77,73.20 L661.87,73.70 L661.98,74.20 L662.08,74.70 L662.19,75.20 L662.29,75.70 L662.40,76.20 L662.50,76.70 L662.61,77.20 L662.72,77.70 L662.82,78.20 L662.93,78.70 L663.04,79.20 L663.15,79.70 L663.25,80.20 L663.36,80.70 L663.47,81.20 L663.58,81.70 L663.69,82.20 L663.80,82.70 L663.91,83.20 L664.02,83.70 L664.13,84.20 L664.25,84.70 L664.36,85.20 L664.47,85.70 L664.59,86.20 L664.70,86.70 L664.82,87.20 L664.93,87.70 L665.05,88.20 L665.16,88.70 L665.28,89.20 L665.40,89.70 L665.51,90.20 L665.63,90.70 L665.75,91.20 L665.87,91.70 L665.99,92.20 L666.12,92.70 L666.24,93.20 L666.36,93.70 L666.49,94.20 L666.61,94.70 L666.74,95.20 L666.87,95.70 L667.00,96.20 L667.13,96.70 L667.26,97.20 L667.39,97.70 L667.52,98.20 L667.66,98.70 L667.79,99.20 L667.93,99.70 L668.07,100.20 L668.20,100.70 L668.34,101.20 L668.48,101.70 L668.63,102.20 L668.77,102.70 L668.91,103.20 L669.06,103.70 L669.20,104.20 L669.35,104.70 L669.49,105.20 L669.64,105.70 L669.79,106.20 L669.94,106.70 L670.09,107.20 L670.24,107.70 L670.39,108.20 L670.54,108.70 L670.69,109.20 L670.84,109.70 L670.99,110.20 L671.14,110.70 L671.29,111.20 L671.45,111.70 L671.60,112.20 L671.75,112.70 L671.91,113.20 L672.06,113.70 L672.21,114.20 L672.37,114.70 L672.52,115.20 L672.67,115.70 L672.83,116.20 L672.98,116.70 L673.13,117.20 L673.29,117.70 L673.44,118.20 L673.59,118.70 L673.75,119.20 L673.90,119.70 L674.05,120.20 L674.21,120.70 L674.36,121.20 L674.51,121.70 L674.66,122.20 L674.81,122.70 L674.96,123.20 L675.11,123.70 L675.26,124.20 L675.41,124.70 L675.56,125.20 L675.70,125.70 L675.85,126.20 L675.99,126.70 L676.14,127.20 L676.28,127.70 L676.42,128.20 L676.57,128.70 L676.71,129.20 L676.85,129.70 L676.98,130.20 L677.12,130.70 L677.26,131.20 L677.39,131.70 L677.53,132.20 L677.66,132.70 L677.80,133.20 L677.93,133.70 L678.06,134.20 L678.19,134.70 L678.32,135.20 L678.45,135.70 L678.58,136.20 L678.71,136.70 L678.84,137.20 L678.96,137.70 L679.09,138.20 L679.22,138.70 L679.34,139.20 L679.47,139.70 L679.60,140.20 L679.72,140.70 L679.84,141.20 L679.97,141.70 L680.09,142.20 L680.21,142.70 L680.34,143.20 L680.46,143.70 L680.58,144.20 L680.70,144.70 L680.82,145.20 L680.93,145.70 L681.05,146.20 L681.17,146.70 L681.28,147.20 L681.39,147.70 L681.51,148.20 L681.62,148.70 L681.73,149.20 L681.84,149.70 L681.95,150.20 L682.06,150.70 L682.16,151.20 L682.27,151.70 L682.37,152.20 L682.47,152.70 L682.57,153.20 L682.68,153.70 L682.77,154.20 L682.87,154.70 L682.97,155.20 L683.06,155.70 L683.16,156.20 L683.25,156.70 L683.34,157.20 L683.43,157.70 L683.52,158.20 L683.61,158.70 L683.70,159.20 L683.78,159.70 L683.86,160.20 L683.94,160.70 L684.02,161.20 L684.10,161.70 L684.18,162.20 L684.25,162.70 L684.33,163.20 L684.40,163.70 L684.47,164.20 L684.53,164.70 L684.60,165.20 L684.66,165.70 L684.72,166.20 L684.78,166.70 L684.83,167.20 L684.88,167.70 L684.93,168.20 L684.98,168.70 L685.02,169.20 L685.06,169.70 L685.10,170.20 L685.13,170.70 L685.16,171.20 L685.19,171.70 L685.21,172.20 L685.22,172.70 L685.24,173.20 L685.25,173.70 L685.25,174.20 L685.25,174.70 L685.25,175.20 L685.24,175.70 L685.23,176.20 L685.21,176.70 L685.19,177.20 L685.16,177.70 L685.13,178.20 L685.10,178.70 L685.06,179.20 L685.02,179.70 L684.97,180.20 L684.92,180.70 L684.86,181.20 L684.80,181.70 L684.73,182.20 L684.66,182.70 L684.59,183.20 L684.51,183.70 L684.42,184.20 L684.33,184.70 L684.24,185.20 L684.14,185.70 L684.04,186.20 L683.94,186.70 L683.83,187.20 L683.71,187.70 L683.59,188.20 L683.47,188.70 L683.35,189.20 L683.22,189.70 L683.08,190.20 L682.95,190.70 L682.81,191.20 L682.67,191.70 L682.52,192.20 L682.37,192.70 L682.22,193.20 L682.07,193.70 L681.91,194.20 L681.75,194.70 L681.59,195.20 L681.43,195.70 L681.27,196.20 L681.10,196.70 L680.94,197.20 L680.77,197.70 L680.60,198.20 L680.43,198.70 L680.26,199.20 L680.09,199.70 L679.92,200.20 L679.74,200.70 L679.57,201.20 L679.40,201.70 L679.22,202.20 L679.05,202.70 L678.87,203.20 L678.70,203.70 L678.52,204.20 L678.34,204.70 L678.17,205.20 L677.99,205.70 L677.82,206.20 L677.64,206.70 L677.47,207.20 L677.29,207.70 L677.11,208.20 L676.94,208.70 L676.77,209.20 L676.59,209.70 L676.42,210.20 L676.24,210.70 L676.07,211.20 L675.90,211.70 L675.72,212.20 L675.55,212.70 L675.38,213.20 L675.21,213.70 L675.03,214.20 L674.86,214.70 L674.69,215.20 L674.52,215.70 L674.35,216.20 L674.18,216.70 L674.01,217.20 L673.84,217.70 L673.67,218.20 L673.50,218.70 L673.33,219.20 L673.17,219.70 L673.00,220.20 L672.83,220.70 L672.67,221.20 L672.50,221.70 L672.34,222.20 L672.18,222.70 L672.02,223.20 L671.86,223.70 L671.70,224.20 L671.54,224.70 L671.38,225.20 L671.22,225.70 L671.07,226.20 L670.92,226.70 L670.76,227.20 L670.61,227.70 L670.46,228.20 L670.32,228.70 L670.17,229.20 L670.03,229.70 L669.88,230.20 L669.74,230.70 L669.60,231.20 L669.46,231.70 L669.32,232.20 L669.19,232.70 L669.06,233.20 L668.92,233.70 L668.79,234.20 L668.66,234.70 L668.53,235.20 L668.41,235.70 L668.28,236.20 L668.15,236.70 L668.03,237.20 L667.91,237.70 L667.78,238.20 L667.66,238.70 L667.54,239.20 L667.42,239.70 L667.30,240.20 L667.18,240.70 L667.05,241.20 L666.93,241.70 L666.81,242.20 L666.69,242.70 L666.57,243.20 L666.45,243.70 L666.32,244.20 L666.20,244.70 L666.08,245.20 L665.95,245.70 L665.83,246.20 L665.70,246.70 L665.58,247.20 L665.46,247.70 L665.33,248.20 L665.21,248.70 L665.09,249.20 L664.96,249.70 L664.84,250.20 L664.72,250.70 L664.60,251.20 L664.49,251.70 L664.37,252.20 L664.26,252.70 L664.15,253.20 L664.04,253.70 L663.93,254.20 L663.83,254.70 L663.73,255.20 L663.63,255.70 L663.53,256.20 L663.44,256.70 L663.35,257.20 L663.26,257.70 L663.17,258.20 L663.09,258.70 L663.01,259.20 L662.93,259.70 L662.86,260.20 L662.78,260.70 L662.71,261.20 L662.64,261.70 L662.58,262.20 L662.51,262.70 L662.45,263.20 L662.38,263.70 L662.32,264.20 L662.26,264.70 L662.20,265.20 L662.15,265.70 L662.09,266.20 L662.04,266.70 L661.98,267.20 L661.93,267.70 L661.88,268.20 L661.82,268.70 L661.77,269.20 L661.72,269.70 L661.67,270.20 L661.62,270.70 L661.57,271.20 L661.52,271.70 L661.47,272.20 L661.43,272.70 L661.38,273.20 L661.33,273.70 L661.29,274.20 L661.25,274.70 L661.20,275.20 L661.16,275.70 L661.12,276.20 L661.08,276.70 L661.04,277.20 L661.00,277.70 L660.96,278.20 L660.91,278.70 L660.86,279.20 L660.81,279.70 L660.76,280.20 L660.70,280.70 L660.64,281.20 L660.57,281.70 L660.50,282.20 L660.43,282.70 L660.36,283.20 L660.29,283.70 L660.21,284.20 L660.13,284.70 L660.05,285.20 L659.97,285.70 L660.60,286.10 L659.90,286.10 Z" fill="#009E73"/>
<line x1="547.2" x2="547.2" y1="89.4" y2="132" stroke="#333333" stroke-width="0.6" stroke-opacity="0.8"/>
<line x1="547.2" x2="547.2" y1="186.4" y2="243.3" stroke="#333333" stroke-width="0.6" stroke-opacity="0.8"/>
<rect x="544.40" y="132" width="5.20" height="54.40" fill="#E69F00" fill-opacity="0.3" stroke="#333333" stroke-width="0.65" stroke-opacity="0.6"/>
<line x1="544.40" x2="549.60" y1="157.2" y2="157.2" stroke="#333333" stroke-width="0.9"/>
<line x1="603.4" x2="603.4" y1="92.2" y2="135.7" stroke="#333333" stroke-width="0.6" stroke-opacity="0.8"/>
<line x1="603.4" x2="603.4" y1="193.8" y2="252" stroke="#333333" stroke-width="0.6" stroke-opacity="0.8"/>
<rect x="600.60" y="135.7" width="5.20" height="58.10" fill="#56B4E9" fill-opacity="0.3" stroke="#333333" stroke-width="0.65" stroke-opacity="0.6"/>
<line x1="600.60" x2="605.80" y1="165.0" y2="165.0" stroke="#333333" stroke-width="0.9"/>
<line x1="659.9" x2="659.9" y1="103.7" y2="144.6" stroke="#333333" stroke-width="0.6" stroke-opacity="0.8"/>
<line x1="659.9" x2="659.9" y1="195.8" y2="245.3" stroke="#333333" stroke-width="0.6" stroke-opacity="0.8"/>
<rect x="657.10" y="144.6" width="5.20" height="51.20" fill="#009E73" fill-opacity="0.3" stroke="#333333" stroke-width="0.65" stroke-opacity="0.6"/>
<line x1="657.10" x2="662.30" y1="169.3" y2="169.3" stroke="#333333" stroke-width="0.9"/>
<circle cx="522.69" cy="89.70" r="0.75" fill="#E69F00" fill-opacity="0.9"/>
<circle cx="522.91" cy="95.62" r="0.75" fill="#E69F00" fill-opacity="0.9"/>
<circle cx="526.66" cy="98.53" r="0.75" fill="#E69F00" fill-opacity="0.9"/>
<circle cx="523.39" cy="103.73" r="0.75" fill="#E69F00" fill-opacity="0.9"/>
<circle cx="526.39" cy="104.64" r="0.75" fill="#E69F00" fill-opacity="0.9"/>
<circle cx="524.23" cy="108.21" r="0.75" fill="#E69F00" fill-opacity="0.9"/>
<circle cx="524.32" cy="111.83" r="0.75" fill="#E69F00" fill-opacity="0.9"/>
<circle cx="521.18" cy="113.97" r="0.75" fill="#E69F00" fill-opacity="0.9"/>
<circle cx="525.29" cy="116.24" r="0.75" fill="#E69F00" fill-opacity="0.9"/>
<circle cx="523.85" cy="118.21" r="0.75" fill="#E69F00" fill-opacity="0.9"/>
<circle cx="521.02" cy="119.80" r="0.75" fill="#E69F00" fill-opacity="0.9"/>
<circle cx="523.52" cy="122.69" r="0.75" fill="#E69F00" fill-opacity="0.9"/>
<circle cx="522.57" cy="124.37" r="0.75" fill="#E69F00" fill-opacity="0.9"/>
<circle cx="521.16" cy="125.89" r="0.75" fill="#E69F00" fill-opacity="0.9"/>
<circle cx="525.52" cy="127.71" r="0.75" fill="#E69F00" fill-opacity="0.9"/>
<circle cx="521.68" cy="130.08" r="0.75" fill="#E69F00" fill-opacity="0.9"/>
<circle cx="522.41" cy="131.22" r="0.75" fill="#E69F00" fill-opacity="0.9"/>
<circle cx="521.49" cy="133.12" r="0.75" fill="#E69F00" fill-opacity="0.9"/>
<circle cx="525.17" cy="134.38" r="0.75" fill="#E69F00" fill-opacity="0.9"/>
<circle cx="522.60" cy="136.11" r="0.75" fill="#E69F00" fill-opacity="0.9"/>
<circle cx="521.27" cy="139.02" r="0.75" fill="#E69F00" fill-opacity="0.9"/>
<circle cx="523.40" cy="139.66" r="0.75" fill="#E69F00" fill-opacity="0.9"/>
<circle cx="522.21" cy="141.96" r="0.75" fill="#E69F00" fill-opacity="0.9"/>
<circle cx="521.75" cy="143.52" r="0.75" fill="#E69F00" fill-opacity="0.9"/>
<circle cx="523.36" cy="145.37" r="0.75" fill="#E69F00" fill-opacity="0.9"/>
<circle cx="525.72" cy="146.90" r="0.75" fill="#E69F00" fill-opacity="0.9"/>
<circle cx="525.34" cy="148.62" r="0.75" fill="#E69F00" fill-opacity="0.9"/>
<circle cx="520.84" cy="150.15" r="0.75" fill="#E69F00" fill-opacity="0.9"/>
<circle cx="521.90" cy="151.15" r="0.75" fill="#E69F00" fill-opacity="0.9"/>
<circle cx="521.14" cy="153.55" r="0.75" fill="#E69F00" fill-opacity="0.9"/>
<circle cx="521.94" cy="154.45" r="0.75" fill="#E69F00" fill-opacity="0.9"/>
<circle cx="524.12" cy="156.60" r="0.75" fill="#E69F00" fill-opacity="0.9"/>
<circle cx="525.32" cy="158.08" r="0.75" fill="#E69F00" fill-opacity="0.9"/>
<circle cx="523.01" cy="159.22" r="0.75" fill="#E69F00" fill-opacity="0.9"/>
<circle cx="522.88" cy="161.85" r="0.75" fill="#E69F00" fill-opacity="0.9"/>
<circle cx="522.50" cy="163.76" r="0.75" fill="#E69F00" fill-opacity="0.9"/>
<circle cx="522.72" cy="165.46" r="0.75" fill="#E69F00" fill-opacity="0.9"/>
<circle cx="522.40" cy="166.13" r="0.75" fill="#E69F00" fill-opacity="0.9"/>
<circle cx="524.98" cy="169.08" r="0.75" fill="#E69F00" fill-opacity="0.9"/>
<circle cx="522.77" cy="170.05" r="0.75" fill="#E69F00" fill-opacity="0.9"/>
<circle cx="524.03" cy="172.25" r="0.75" fill="#E69F00" fill-opacity="0.9"/>
<circle cx="521.93" cy="173.96" r="0.75" fill="#E69F00" fill-opacity="0.9"/>
<circle cx="526.48" cy="175.72" r="0.75" fill="#E69F00" fill-opacity="0.9"/>
<circle cx="526.03" cy="178.31" r="0.75" fill="#E69F00" fill-opacity="0.9"/>
<circle cx="522.60" cy="179.32" r="0.75" fill="#E69F00" fill-opacity="0.9"/>
<circle cx="524.39" cy="181.70" r="0.75" fill="#E69F00" fill-opacity="0.9"/>
<circle cx="523.96" cy="183.18" r="0.75" fill="#E69F00" fill-opacity="0.9"/>
<circle cx="521.97" cy="185.68" r="0.75" fill="#E69F00" fill-opacity="0.9"/>
<circle cx="524.57" cy="187.58" r="0.75" fill="#E69F00" fill-opacity="0.9"/>
<circle cx="526.71" cy="191.20" r="0.75" fill="#E69F00" fill-opacity="0.9"/>
<circle cx="523.05" cy="192.29" r="0.75" fill="#E69F00" fill-opacity="0.9"/>
<circle cx="525.23" cy="196.19" r="0.75" fill="#E69F00" fill-opacity="0.9"/>
<circle cx="524.31" cy="197.53" r="0.75" fill="#E69F00" fill-opacity="0.9"/>
<circle cx="523.54" cy="201.41" r="0.75" fill="#E69F00" fill-opacity="0.9"/>
<circle cx="525.52" cy="203.33" r="0.75" fill="#E69F00" fill-opacity="0.9"/>
<circle cx="524.33" cy="205.97" r="0.75" fill="#E69F00" fill-opacity="0.9"/>
<circle cx="522.96" cy="209.22" r="0.75" fill="#E69F00" fill-opacity="0.9"/>
<circle cx="523.27" cy="212.97" r="0.75" fill="#E69F00" fill-opacity="0.9"/>
<circle cx="526.30" cy="215.53" r="0.75" fill="#E69F00" fill-opacity="0.9"/>
<circle cx="526.21" cy="220.75" r="0.75" fill="#E69F00" fill-opacity="0.9"/>
<circle cx="525.02" cy="224.36" r="0.75" fill="#E69F00" fill-opacity="0.9"/>
<circle cx="521.12" cy="226.95" r="0.75" fill="#E69F00" fill-opacity="0.9"/>
<circle cx="521.85" cy="234.92" r="0.75" fill="#E69F00" fill-opacity="0.9"/>
<circle cx="524.44" cy="243.00" r="0.75" fill="#E69F00" fill-opacity="0.9"/>
<circle cx="580.41" cy="92.50" r="0.75" fill="#56B4E9" fill-opacity="0.9"/>
<circle cx="580.66" cy="99.95" r="0.75" fill="#56B4E9" fill-opacity="0.9"/>
<circle cx="582.72" cy="103.31" r="0.75" fill="#56B4E9" fill-opacity="0.9"/>
<circle cx="578.70" cy="107.46" r="0.75" fill="#56B4E9" fill-opacity="0.9"/>
<circle cx="581.74" cy="110.86" r="0.75" fill="#56B4E9" fill-opacity="0.9"/>
<circle cx="577.73" cy="113.39" r="0.75" fill="#56B4E9" fill-opacity="0.9"/>
<circle cx="577.60" cy="116.85" r="0.75" fill="#56B4E9" fill-opacity="0.9"/>
<circle cx="579.76" cy="118.88" r="0.75" fill="#56B4E9" fill-opacity="0.9"/>
<circle cx="580.15" cy="121.78" r="0.75" fill="#56B4E9" fill-opacity="0.9"/>
<circle cx="582.60" cy="124.00" r="0.75" fill="#56B4E9" fill-opacity="0.9"/>
<circle cx="583.39" cy="126.19" r="0.75" fill="#56B4E9" fill-opacity="0.9"/>
<circle cx="581.97" cy="128.09" r="0.75" fill="#56B4E9" fill-opacity="0.9"/>
<circle cx="583.21" cy="130.29" r="0.75" fill="#56B4E9" fill-opacity="0.9"/>
<circle cx="579.89" cy="131.79" r="0.75" fill="#56B4E9" fill-opacity="0.9"/>
<circle cx="578.89" cy="134.22" r="0.75" fill="#56B4E9" fill-opacity="0.9"/>
<circle cx="582.52" cy="135.25" r="0.75" fill="#56B4E9" fill-opacity="0.9"/>
<circle cx="578.09" cy="137.17" r="0.75" fill="#56B4E9" fill-opacity="0.9"/>
<circle cx="580.36" cy="139.47" r="0.75" fill="#56B4E9" fill-opacity="0.9"/>
<circle cx="579.13" cy="141.79" r="0.75" fill="#56B4E9" fill-opacity="0.9"/>
<circle cx="581.44" cy="142.95" r="0.75" fill="#56B4E9" fill-opacity="0.9"/>
<circle cx="580.65" cy="145.09" r="0.75" fill="#56B4E9" fill-opacity="0.9"/>
<circle cx="579.66" cy="147.13" r="0.75" fill="#56B4E9" fill-opacity="0.9"/>
<circle cx="580.14" cy="148.78" r="0.75" fill="#56B4E9" fill-opacity="0.9"/>
<circle cx="580.71" cy="149.70" r="0.75" fill="#56B4E9" fill-opacity="0.9"/>
<circle cx="578.78" cy="151.91" r="0.75" fill="#56B4E9" fill-opacity="0.9"/>
<circle cx="582.79" cy="153.95" r="0.75" fill="#56B4E9" fill-opacity="0.9"/>
<circle cx="579.35" cy="155.25" r="0.75" fill="#56B4E9" fill-opacity="0.9"/>
<circle cx="580.36" cy="157.17" r="0.75" fill="#56B4E9" fill-opacity="0.9"/>
<circle cx="578.66" cy="159.09" r="0.75" fill="#56B4E9" fill-opacity="0.9"/>
<circle cx="578.76" cy="160.33" r="0.75" fill="#56B4E9" fill-opacity="0.9"/>
<circle cx="582.50" cy="161.77" r="0.75" fill="#56B4E9" fill-opacity="0.9"/>
<circle cx="581.42" cy="163.39" r="0.75" fill="#56B4E9" fill-opacity="0.9"/>
<circle cx="579.18" cy="165.09" r="0.75" fill="#56B4E9" fill-opacity="0.9"/>
<circle cx="580.37" cy="167.65" r="0.75" fill="#56B4E9" fill-opacity="0.9"/>
<circle cx="580.62" cy="168.46" r="0.75" fill="#56B4E9" fill-opacity="0.9"/>
<circle cx="582.87" cy="170.98" r="0.75" fill="#56B4E9" fill-opacity="0.9"/>
<circle cx="582.12" cy="172.15" r="0.75" fill="#56B4E9" fill-opacity="0.9"/>
<circle cx="580.89" cy="174.29" r="0.75" fill="#56B4E9" fill-opacity="0.9"/>
<circle cx="580.91" cy="175.67" r="0.75" fill="#56B4E9" fill-opacity="0.9"/>
<circle cx="579.28" cy="177.60" r="0.75" fill="#56B4E9" fill-opacity="0.9"/>
<circle cx="578.10" cy="179.01" r="0.75" fill="#56B4E9" fill-opacity="0.9"/>
<circle cx="580.84" cy="181.84" r="0.75" fill="#56B4E9" fill-opacity="0.9"/>
<circle cx="579.64" cy="183.78" r="0.75" fill="#56B4E9" fill-opacity="0.9"/>
<circle cx="579.23" cy="184.76" r="0.75" fill="#56B4E9" fill-opacity="0.9"/>
<circle cx="580.51" cy="187.87" r="0.75" fill="#56B4E9" fill-opacity="0.9"/>
<circle cx="582.56" cy="190.00" r="0.75" fill="#56B4E9" fill-opacity="0.9"/>
<circle cx="580.00" cy="191.05" r="0.75" fill="#56B4E9" fill-opacity="0.9"/>
<circle cx="580.98" cy="194.03" r="0.75" fill="#56B4E9" fill-opacity="0.9"/>
<circle cx="579.98" cy="195.74" r="0.75" fill="#56B4E9" fill-opacity="0.9"/>
<circle cx="578.07" cy="197.36" r="0.75" fill="#56B4E9" fill-opacity="0.9"/>
<circle cx="577.80" cy="199.61" r="0.75" fill="#56B4E9" fill-opacity="0.9"/>
<circle cx="578.70" cy="202.86" r="0.75" fill="#56B4E9" fill-opacity="0.9"/>
<circle cx="579.37" cy="204.15" r="0.75" fill="#56B4E9" fill-opacity="0.9"/>
<circle cx="578.65" cy="206.76" r="0.75" fill="#56B4E9" fill-opacity="0.9"/>
<circle cx="578.38" cy="210.68" r="0.75" fill="#56B4E9" fill-opacity="0.9"/>
<circle cx="580.41" cy="211.73" r="0.75" fill="#56B4E9" fill-opacity="0.9"/>
<circle cx="580.53" cy="215.50" r="0.75" fill="#56B4E9" fill-opacity="0.9"/>
<circle cx="578.25" cy="218.66" r="0.75" fill="#56B4E9" fill-opacity="0.9"/>
<circle cx="581.87" cy="222.59" r="0.75" fill="#56B4E9" fill-opacity="0.9"/>
<circle cx="581.77" cy="226.63" r="0.75" fill="#56B4E9" fill-opacity="0.9"/>
<circle cx="580.49" cy="231.22" r="0.75" fill="#56B4E9" fill-opacity="0.9"/>
<circle cx="583.21" cy="233.24" r="0.75" fill="#56B4E9" fill-opacity="0.9"/>
<circle cx="581.72" cy="237.85" r="0.75" fill="#56B4E9" fill-opacity="0.9"/>
<circle cx="579.38" cy="251.70" r="0.75" fill="#56B4E9" fill-opacity="0.9"/>
<circle cx="634.15" cy="104.00" r="0.75" fill="#009E73" fill-opacity="0.9"/>
<circle cx="634.58" cy="109.50" r="0.75" fill="#009E73" fill-opacity="0.9"/>
<circle cx="634.23" cy="111.74" r="0.75" fill="#009E73" fill-opacity="0.9"/>
<circle cx="639.94" cy="115.21" r="0.75" fill="#009E73" fill-opacity="0.9"/>
<circle cx="634.54" cy="119.55" r="0.75" fill="#009E73" fill-opacity="0.9"/>
<circle cx="636.21" cy="122.25" r="0.75" fill="#009E73" fill-opacity="0.9"/>
<circle cx="635.46" cy="124.42" r="0.75" fill="#009E73" fill-opacity="0.9"/>
<circle cx="634.68" cy="127.09" r="0.75" fill="#009E73" fill-opacity="0.9"/>
<circle cx="636.85" cy="128.97" r="0.75" fill="#009E73" fill-opacity="0.9"/>
<circle cx="637.49" cy="130.84" r="0.75" fill="#009E73" fill-opacity="0.9"/>
<circle cx="636.24" cy="133.12" r="0.75" fill="#009E73" fill-opacity="0.9"/>
<circle cx="638.97" cy="135.84" r="0.75" fill="#009E73" fill-opacity="0.9"/>
<circle cx="635.84" cy="138.38" r="0.75" fill="#009E73" fill-opacity="0.9"/>
<circle cx="634.82" cy="139.64" r="0.75" fill="#009E73" fill-opacity="0.9"/>
<circle cx="637.20" cy="142.16" r="0.75" fill="#009E73" fill-opacity="0.9"/>
<circle cx="635.33" cy="143.16" r="0.75" fill="#009E73" fill-opacity="0.9"/>
<circle cx="634.45" cy="146.10" r="0.75" fill="#009E73" fill-opacity="0.9"/>
<circle cx="635.03" cy="147.49" r="0.75" fill="#009E73" fill-opacity="0.9"/>
<circle cx="639.76" cy="149.75" r="0.75" fill="#009E73" fill-opacity="0.9"/>
<circle cx="634.52" cy="151.02" r="0.75" fill="#009E73" fill-opacity="0.9"/>
<circle cx="637.07" cy="152.62" r="0.75" fill="#009E73" fill-opacity="0.9"/>
<circle cx="636.01" cy="154.64" r="0.75" fill="#009E73" fill-opacity="0.9"/>
<circle cx="634.04" cy="156.46" r="0.75" fill="#009E73" fill-opacity="0.9"/>
<circle cx="637.90" cy="157.50" r="0.75" fill="#009E73" fill-opacity="0.9"/>
<circle cx="637.60" cy="159.32" r="0.75" fill="#009E73" fill-opacity="0.9"/>
<circle cx="636.01" cy="161.69" r="0.75" fill="#009E73" fill-opacity="0.9"/>
<circle cx="639.92" cy="162.99" r="0.75" fill="#009E73" fill-opacity="0.9"/>
<circle cx="634.24" cy="164.77" r="0.75" fill="#009E73" fill-opacity="0.9"/>
<circle cx="635.53" cy="165.59" r="0.75" fill="#009E73" fill-opacity="0.9"/>
<circle cx="634.46" cy="166.99" r="0.75" fill="#009E73" fill-opacity="0.9"/>
<circle cx="639.71" cy="169.16" r="0.75" fill="#009E73" fill-opacity="0.9"/>
<circle cx="639.16" cy="170.22" r="0.75" fill="#009E73" fill-opacity="0.9"/>
<circle cx="637.49" cy="172.67" r="0.75" fill="#009E73" fill-opacity="0.9"/>
<circle cx="636.57" cy="173.55" r="0.75" fill="#009E73" fill-opacity="0.9"/>
<circle cx="637.32" cy="174.93" r="0.75" fill="#009E73" fill-opacity="0.9"/>
<circle cx="635.35" cy="177.06" r="0.75" fill="#009E73" fill-opacity="0.9"/>
<circle cx="636.17" cy="178.40" r="0.75" fill="#009E73" fill-opacity="0.9"/>
<circle cx="638.43" cy="179.82" r="0.75" fill="#009E73" fill-opacity="0.9"/>
<circle cx="638.91" cy="181.93" r="0.75" fill="#009E73" fill-opacity="0.9"/>
<circle cx="638.47" cy="183.26" r="0.75" fill="#009E73" fill-opacity="0.9"/>
<circle cx="639.91" cy="184.68" r="0.75" fill="#009E73" fill-opacity="0.9"/>
<circle cx="639.38" cy="186.51" r="0.75" fill="#009E73" fill-opacity="0.9"/>
<circle cx="634.40" cy="188.03" r="0.75" fill="#009E73" fill-opacity="0.9"/>
<circle cx="638.80" cy="188.98" r="0.75" fill="#009E73" fill-opacity="0.9"/>
<circle cx="637.88" cy="190.97" r="0.75" fill="#009E73" fill-opacity="0.9"/>
<circle cx="634.71" cy="192.33" r="0.75" fill="#009E73" fill-opacity="0.9"/>
<circle cx="634.06" cy="193.82" r="0.75" fill="#009E73" fill-opacity="0.9"/>
<circle cx="636.96" cy="196.94" r="0.75" fill="#009E73" fill-opacity="0.9"/>
<circle cx="638.50" cy="197.63" r="0.75" fill="#009E73" fill-opacity="0.9"/>
<circle cx="635.83" cy="199.79" r="0.75" fill="#009E73" fill-opacity="0.9"/>
<circle cx="639.66" cy="201.26" r="0.75" fill="#009E73" fill-opacity="0.9"/>
<circle cx="639.91" cy="204.33" r="0.75" fill="#009E73" fill-opacity="0.9"/>
<circle cx="637.65" cy="206.40" r="0.75" fill="#009E73" fill-opacity="0.9"/>
<circle cx="638.00" cy="208.51" r="0.75" fill="#009E73" fill-opacity="0.9"/>
<circle cx="639.63" cy="211.02" r="0.75" fill="#009E73" fill-opacity="0.9"/>
<circle cx="638.62" cy="213.52" r="0.75" fill="#009E73" fill-opacity="0.9"/>
<circle cx="637.25" cy="215.25" r="0.75" fill="#009E73" fill-opacity="0.9"/>
<circle cx="635.10" cy="218.68" r="0.75" fill="#009E73" fill-opacity="0.9"/>
<circle cx="635.28" cy="220.81" r="0.75" fill="#009E73" fill-opacity="0.9"/>
<circle cx="635.43" cy="226.13" r="0.75" fill="#009E73" fill-opacity="0.9"/>
<circle cx="639.65" cy="229.87" r="0.75" fill="#009E73" fill-opacity="0.9"/>
<circle cx="636.22" cy="232.74" r="0.75" fill="#009E73" fill-opacity="0.9"/>
<circle cx="639.23" cy="236.21" r="0.75" fill="#009E73" fill-opacity="0.9"/>
<circle cx="635.57" cy="245.00" r="0.75" fill="#009E73" fill-opacity="0.9"/>
<line x1="532.4" x2="645.6" y1="37.5" y2="37.5" stroke="#444" stroke-width="0.75"/>
</g>
<rect x="499.0" y="25.4" width="185.40" height="281.80" fill="none" stroke="#333333" stroke-width="0.7"/>
<line x1="495.30" x2="499.0" y1="278.1" y2="278.1" stroke="#333333" stroke-width="1.2"/>
<text x="492.10" y="281.65" text-anchor="end" font-size="9.8" fill="#4D4D4D" stroke="#4D4D4D" stroke-width="0.18">0</text>
<line x1="495.30" x2="499.0" y1="192.75" y2="192.75" stroke="#333333" stroke-width="1.2"/>
<text x="492.10" y="196.30" text-anchor="end" font-size="9.8" fill="#4D4D4D" stroke="#4D4D4D" stroke-width="0.18">40</text>
<line x1="495.30" x2="499.0" y1="107.4" y2="107.4" stroke="#333333" stroke-width="1.2"/>
<text x="492.10" y="110.95" text-anchor="end" font-size="9.8" fill="#4D4D4D" stroke="#4D4D4D" stroke-width="0.18">80</text>
<line x1="532.4" x2="532.4" y1="307.2" y2="310.90" stroke="#333333" stroke-width="1.2"/>
<text x="532.4" y="320.4" text-anchor="middle" font-size="10.25" fill="#4D4D4D" stroke="#4D4D4D" stroke-width="0.18">CleanAir</text>
<line x1="589.0" x2="589.0" y1="307.2" y2="310.90" stroke="#333333" stroke-width="1.2"/>
<text x="589.0" y="320.4" text-anchor="middle" font-size="10.25" fill="#4D4D4D" stroke="#4D4D4D" stroke-width="0.18">Happiness</text>
<line x1="645.6" x2="645.6" y1="307.2" y2="310.90" stroke="#333333" stroke-width="1.2"/>
<text x="645.6" y="320.4" text-anchor="middle" font-size="10.25" fill="#4D4D4D" stroke="#4D4D4D" stroke-width="0.18">Fear</text>
<text x="589.00" y="35.8" text-anchor="middle" font-size="11.5" font-weight="bold" fill="#000">**</text>
<text transform="translate(475.80,166.30) rotate(-90)" text-anchor="middle" font-size="13" fill="#000">LF nu</text>
<text x="-0.7" y="5.9" font-size="8.3" font-weight="bold" fill="#000">A</text>
<text transform="translate(231.4,5.9) scale(0.92,1)" font-size="8.3" font-weight="bold" fill="#000">B</text>
<text x="462.4" y="5.9" font-size="8.3" font-weight="bold" fill="#000">C</text>
</svg>
</body></html>
